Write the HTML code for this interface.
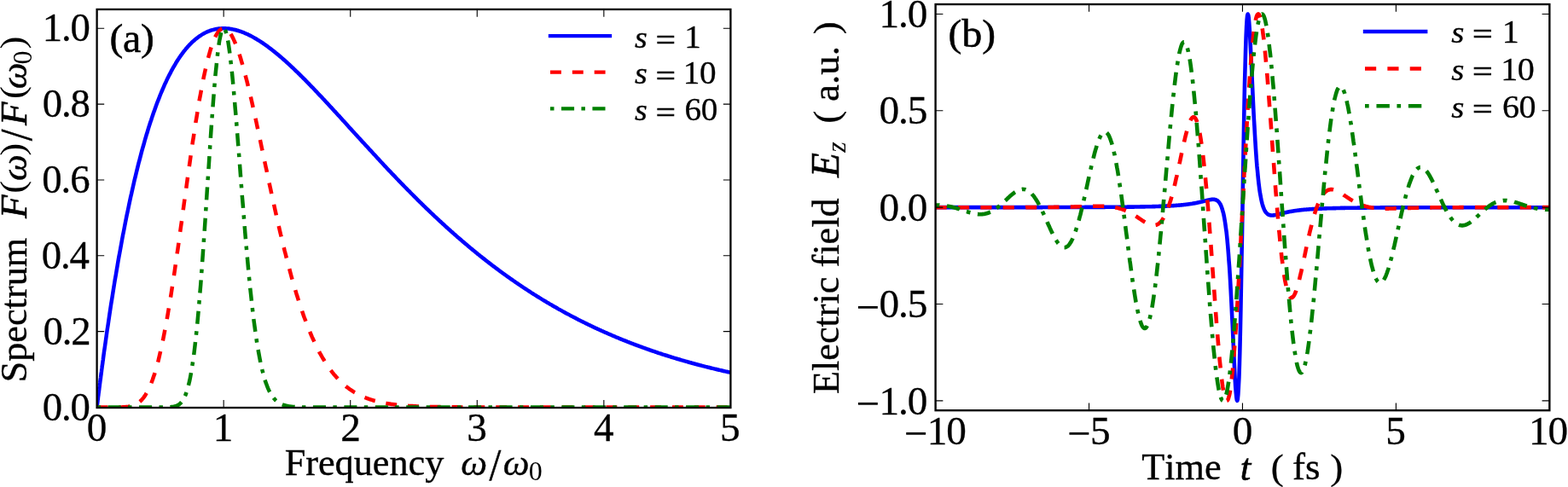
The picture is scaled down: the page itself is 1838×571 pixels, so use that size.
<!DOCTYPE html>
<html lang="en"><head><meta charset="utf-8"><title>Spectrum and electric field</title>
<style>html,body{margin:0;padding:0;background:#fff}body{width:1838px;height:571px;overflow:hidden}svg{display:block}</style>
</head><body>
<svg width="1838" height="571" viewBox="0 0 1838 571" font-family='"Liberation Serif", "DejaVu Serif", serif' fill="#000" style="font-kerning:none">
<rect x="0" y="0" width="1838" height="571" fill="#fff"/>
<defs>
<clipPath id="ca"><rect x="113.6" y="11.05" width="742.80" height="466.45"/></clipPath>
<clipPath id="cb"><rect x="1096.6" y="5.1" width="719.75" height="476.10"/></clipPath>
</defs>
<g clip-path="url(#ca)" fill="none" stroke-width="4.50" stroke-linejoin="round">
<path d="M113.6,477.5L113.9,475.4L114.1,473.4L114.4,471.3L114.6,469.2L114.9,467.2L115.1,465.1L115.4,463.1L115.6,461.1L115.9,459.1L116.2,457.0L116.4,455.0L116.7,453.0L116.9,451.0L117.2,449.0L117.4,447.1L117.7,445.1L118.0,443.1L118.2,441.2L118.5,439.2L118.7,437.3L119.0,435.3L119.2,433.4L119.5,431.5L119.7,429.6L120.0,427.6L120.3,425.7L120.5,423.8L120.8,422.0L121.0,420.1L121.9,413.3L122.9,406.7L123.8,400.2L124.7,393.7L125.6,387.3L126.6,381.0L127.5,374.8L128.4,368.7L129.3,362.6L130.2,356.6L131.2,350.7L132.1,344.9L133.0,339.2L133.9,333.5L134.8,327.9L135.8,322.4L136.7,316.9L137.6,311.6L138.5,306.2L139.4,301.0L140.4,295.9L141.3,290.8L142.2,285.8L143.1,280.8L144.0,275.9L145.0,271.1L145.9,266.4L146.8,261.7L147.7,257.1L148.6,252.5L149.6,248.0L150.5,243.6L151.4,239.3L152.3,235.0L153.2,230.7L154.2,226.6L155.1,222.5L156.0,218.4L156.9,214.4L157.8,210.5L158.8,206.6L159.7,202.8L160.6,199.1L161.5,195.4L162.4,191.7L163.4,188.1L164.3,184.6L165.2,181.1L166.1,177.7L167.0,174.3L168.0,171.0L168.9,167.8L169.8,164.5L170.7,161.4L171.6,158.3L172.6,155.2L173.5,152.2L174.4,149.2L175.3,146.3L176.2,143.5L177.2,140.7L178.1,137.9L179.0,135.2L179.9,132.5L180.9,129.9L181.8,127.3L182.7,124.8L183.6,122.3L184.5,119.8L185.5,117.4L186.4,115.1L187.3,112.7L188.2,110.5L189.1,108.2L190.1,106.0L191.0,103.9L191.9,101.8L192.8,99.7L193.7,97.7L194.7,95.7L195.6,93.7L196.5,91.8L197.4,90.0L198.3,88.1L199.3,86.3L200.2,84.6L201.1,82.8L202.0,81.2L202.9,79.5L203.9,77.9L204.8,76.3L205.7,74.8L206.6,73.2L207.5,71.8L208.5,70.3L209.4,68.9L210.3,67.5L211.2,66.2L212.1,64.9L213.1,63.6L214.0,62.3L214.9,61.1L215.8,59.9L216.7,58.8L217.7,57.6L218.6,56.6L219.5,55.5L220.4,54.4L221.3,53.4L222.3,52.5L223.2,51.5L224.1,50.6L225.0,49.7L225.9,48.8L226.9,48.0L227.8,47.2L228.7,46.4L229.6,45.6L230.6,44.9L231.5,44.2L232.4,43.5L233.3,42.8L234.2,42.2L235.2,41.6L236.1,41.0L237.0,40.4L237.9,39.9L238.8,39.3L239.8,38.9L240.7,38.4L241.6,37.9L242.5,37.5L243.4,37.1L244.4,36.7L245.3,36.4L246.2,36.0L247.1,35.7L248.0,35.4L249.0,35.1L249.9,34.9L250.8,34.6L251.7,34.4L252.6,34.2L253.6,34.0L254.5,33.9L255.4,33.7L256.3,33.6L257.2,33.5L258.2,33.4L259.1,33.4L260.0,33.3L260.9,33.3L261.8,33.3L262.8,33.3L263.7,33.3L264.6,33.3L265.5,33.4L266.4,33.4L267.4,33.5L268.3,33.6L269.2,33.7L270.1,33.9L271.0,34.0L272.0,34.2L272.9,34.4L273.8,34.6L274.7,34.8L275.6,35.0L276.6,35.2L277.5,35.5L278.4,35.7L279.3,36.0L280.3,36.3L281.2,36.6L282.1,36.9L283.0,37.2L283.9,37.6L284.9,37.9L285.8,38.3L286.7,38.7L287.6,39.1L288.5,39.5L289.5,39.9L290.4,40.3L291.3,40.8L292.2,41.2L293.1,41.7L294.1,42.1L295.0,42.6L295.9,43.1L296.8,43.6L297.7,44.1L298.7,44.7L299.6,45.2L300.5,45.7L301.4,46.3L302.3,46.9L303.3,47.4L304.2,48.0L305.1,48.6L306.0,49.2L306.9,49.8L307.9,50.4L308.8,51.1L309.7,51.7L310.6,52.3L311.5,53.0L312.5,53.6L313.4,54.3L314.3,55.0L315.2,55.7L316.1,56.4L317.1,57.1L318.0,57.8L318.9,58.5L319.8,59.2L320.7,59.9L321.7,60.7L322.6,61.4L323.5,62.2L324.4,62.9L325.3,63.7L326.3,64.4L327.2,65.2L328.1,66.0L329.0,66.8L330.0,67.6L330.9,68.4L331.8,69.2L332.7,70.0L333.6,70.8L334.6,71.6L335.5,72.5L336.4,73.3L337.3,74.1L338.2,75.0L339.2,75.8L340.1,76.7L341.0,77.5L341.9,78.4L342.8,79.3L343.8,80.1L344.7,81.0L345.6,81.9L346.5,82.8L347.4,83.7L348.4,84.5L349.3,85.4L350.2,86.3L351.1,87.2L352.0,88.1L353.0,89.1L353.9,90.0L354.8,90.9L355.7,91.8L356.6,92.7L357.6,93.7L358.5,94.6L359.4,95.5L360.3,96.5L361.2,97.4L362.2,98.4L363.1,99.3L364.0,100.3L364.9,101.2L365.8,102.2L366.8,103.1L367.7,104.1L368.6,105.0L369.5,106.0L370.4,107.0L371.4,107.9L372.3,108.9L373.2,109.9L374.1,110.9L375.0,111.8L376.0,112.8L376.9,113.8L377.8,114.8L378.7,115.8L379.7,116.7L380.6,117.7L381.5,118.7L382.4,119.7L383.3,120.7L384.3,121.7L385.2,122.7L386.1,123.7L387.0,124.7L387.9,125.7L388.9,126.7L389.8,127.7L390.7,128.7L391.6,129.7L392.5,130.7L393.5,131.7L394.4,132.7L395.3,133.7L396.2,134.7L397.1,135.7L398.1,136.7L399.0,137.7L399.9,138.8L400.8,139.8L401.7,140.8L402.7,141.8L403.6,142.8L404.5,143.8L405.4,144.8L406.3,145.8L407.3,146.8L408.2,147.9L409.1,148.9L410.0,149.9L410.9,150.9L411.9,151.9L412.8,152.9L413.7,153.9L414.6,154.9L415.5,156.0L416.5,157.0L417.4,158.0L418.3,159.0L419.2,160.0L420.1,161.0L421.1,162.0L422.0,163.0L422.9,164.0L423.8,165.0L424.7,166.1L425.7,167.1L426.6,168.1L427.5,169.1L428.4,170.1L429.4,171.1L430.3,172.1L431.2,173.1L432.1,174.1L433.0,175.1L434.0,176.1L434.9,177.1L435.8,178.1L436.7,179.1L437.6,180.1L438.6,181.1L439.5,182.1L440.4,183.1L441.3,184.1L442.2,185.1L443.2,186.1L444.1,187.1L445.0,188.1L445.9,189.0L446.8,190.0L447.8,191.0L448.7,192.0L449.6,193.0L450.5,194.0L451.4,195.0L452.4,195.9L453.3,196.9L454.2,197.9L455.1,198.9L456.0,199.8L457.0,200.8L457.9,201.8L458.8,202.8L459.7,203.7L460.6,204.7L461.6,205.7L462.5,206.6L463.4,207.6L464.3,208.5L465.2,209.5L466.2,210.5L467.1,211.4L468.0,212.4L468.9,213.3L469.8,214.3L470.8,215.2L471.7,216.2L472.6,217.1L473.5,218.1L474.4,219.0L475.4,220.0L476.3,220.9L477.2,221.8L478.1,222.8L479.1,223.7L480.0,224.6L480.9,225.6L481.8,226.5L482.7,227.4L483.7,228.3L484.6,229.3L485.5,230.2L486.4,231.1L487.3,232.0L488.3,232.9L489.2,233.9L490.1,234.8L491.0,235.7L491.9,236.6L492.9,237.5L493.8,238.4L494.7,239.3L495.6,240.2L496.5,241.1L497.5,242.0L498.4,242.9L499.3,243.8L500.2,244.7L501.1,245.5L502.1,246.4L503.0,247.3L503.9,248.2L504.8,249.1L505.7,249.9L506.7,250.8L507.6,251.7L508.5,252.6L509.4,253.4L510.3,254.3L511.3,255.2L512.2,256.0L513.1,256.9L514.0,257.7L514.9,258.6L515.9,259.5L516.8,260.3L517.7,261.1L518.6,262.0L519.5,262.8L520.5,263.7L521.4,264.5L522.3,265.4L523.2,266.2L524.1,267.0L525.1,267.9L526.0,268.7L526.9,269.5L527.8,270.3L528.7,271.2L529.7,272.0L530.6,272.8L531.5,273.6L532.4,274.4L533.4,275.2L534.3,276.0L535.2,276.9L536.1,277.7L537.0,278.5L538.0,279.3L538.9,280.1L539.8,280.8L540.7,281.6L541.6,282.4L542.6,283.2L543.5,284.0L544.4,284.8L545.3,285.6L546.2,286.3L547.2,287.1L548.1,287.9L549.0,288.7L549.9,289.4L550.8,290.2L551.8,291.0L552.7,291.7L553.6,292.5L554.5,293.3L555.4,294.0L556.4,294.8L557.3,295.5L558.2,296.3L559.1,297.0L560.0,297.8L561.0,298.5L561.9,299.2L562.8,300.0L563.7,300.7L564.6,301.4L565.6,302.2L566.5,302.9L567.4,303.6L568.3,304.3L569.2,305.1L570.2,305.8L571.1,306.5L572.0,307.2L572.9,307.9L573.8,308.6L574.8,309.3L575.7,310.1L576.6,310.8L577.5,311.5L578.4,312.2L579.4,312.8L580.3,313.5L581.2,314.2L582.1,314.9L583.1,315.6L584.0,316.3L584.9,317.0L585.8,317.7L586.7,318.3L587.7,319.0L588.6,319.7L589.5,320.4L590.4,321.0L591.3,321.7L592.3,322.4L593.2,323.0L594.1,323.7L595.0,324.3L595.9,325.0L596.9,325.6L597.8,326.3L598.7,326.9L599.6,327.6L600.5,328.2L601.5,328.9L602.4,329.5L603.3,330.1L604.2,330.8L605.1,331.4L606.1,332.0L607.0,332.7L607.9,333.3L608.8,333.9L609.7,334.5L610.7,335.2L611.6,335.8L612.5,336.4L613.4,337.0L614.3,337.6L615.3,338.2L616.2,338.8L617.1,339.4L618.0,340.0L618.9,340.6L619.9,341.2L620.8,341.8L621.7,342.4L622.6,343.0L623.5,343.6L624.5,344.2L625.4,344.8L626.3,345.4L627.2,345.9L628.1,346.5L629.1,347.1L630.0,347.7L630.9,348.2L631.8,348.8L632.8,349.4L633.7,349.9L634.6,350.5L635.5,351.1L636.4,351.6L637.4,352.2L638.3,352.7L639.2,353.3L640.1,353.8L641.0,354.4L642.0,354.9L642.9,355.5L643.8,356.0L644.7,356.6L645.6,357.1L646.6,357.6L647.5,358.2L648.4,358.7L649.3,359.2L650.2,359.8L651.2,360.3L652.1,360.8L653.0,361.3L653.9,361.9L654.8,362.4L655.8,362.9L656.7,363.4L657.6,363.9L658.5,364.4L659.4,364.9L660.4,365.4L661.3,366.0L662.2,366.5L663.1,367.0L664.0,367.5L665.0,368.0L665.9,368.4L666.8,368.9L667.7,369.4L668.6,369.9L669.6,370.4L670.5,370.9L671.4,371.4L672.3,371.9L673.2,372.3L674.2,372.8L675.1,373.3L676.0,373.8L676.9,374.2L677.8,374.7L678.8,375.2L679.7,375.6L680.6,376.1L681.5,376.6L682.5,377.0L683.4,377.5L684.3,377.9L685.2,378.4L686.1,378.9L687.1,379.3L688.0,379.8L688.9,380.2L689.8,380.6L690.7,381.1L691.7,381.5L692.6,382.0L693.5,382.4L694.4,382.9L695.3,383.3L696.3,383.7L697.2,384.2L698.1,384.6L699.0,385.0L699.9,385.4L700.9,385.9L701.8,386.3L702.7,386.7L703.6,387.1L704.5,387.5L705.5,388.0L706.4,388.4L707.3,388.8L708.2,389.2L709.1,389.6L710.1,390.0L711.0,390.4L711.9,390.8L712.8,391.2L713.7,391.6L714.7,392.0L715.6,392.4L716.5,392.8L717.4,393.2L718.3,393.6L719.3,394.0L720.2,394.4L721.1,394.8L722.0,395.2L722.9,395.6L723.9,395.9L724.8,396.3L725.7,396.7L726.6,397.1L727.5,397.5L728.5,397.8L729.4,398.2L730.3,398.6L731.2,398.9L732.2,399.3L733.1,399.7L734.0,400.0L734.9,400.4L735.8,400.8L736.8,401.1L737.7,401.5L738.6,401.9L739.5,402.2L740.4,402.6L741.4,402.9L742.3,403.3L743.2,403.6L744.1,404.0L745.0,404.3L746.0,404.7L746.9,405.0L747.8,405.3L748.7,405.7L749.6,406.0L750.6,406.4L751.5,406.7L752.4,407.0L753.3,407.4L754.2,407.7L755.2,408.0L756.1,408.4L757.0,408.7L757.9,409.0L758.8,409.4L759.8,409.7L760.7,410.0L761.6,410.3L762.5,410.6L763.4,411.0L764.4,411.3L765.3,411.6L766.2,411.9L767.1,412.2L768.0,412.5L769.0,412.8L769.9,413.2L770.8,413.5L771.7,413.8L772.6,414.1L773.6,414.4L774.5,414.7L775.4,415.0L776.3,415.3L777.2,415.6L778.2,415.9L779.1,416.2L780.0,416.5L780.9,416.8L781.9,417.0L782.8,417.3L783.7,417.6L784.6,417.9L785.5,418.2L786.5,418.5L787.4,418.8L788.3,419.1L789.2,419.3L790.1,419.6L791.1,419.9L792.0,420.2L792.9,420.5L793.8,420.7L794.7,421.0L795.7,421.3L796.6,421.5L797.5,421.8L798.4,422.1L799.3,422.4L800.3,422.6L801.2,422.9L802.1,423.2L803.0,423.4L803.9,423.7L804.9,423.9L805.8,424.2L806.7,424.5L807.6,424.7L808.5,425.0L809.5,425.2L810.4,425.5L811.3,425.7L812.2,426.0L813.1,426.2L814.1,426.5L815.0,426.7L815.9,427.0L816.8,427.2L817.7,427.5L818.7,427.7L819.6,428.0L820.5,428.2L821.4,428.4L822.3,428.7L823.3,428.9L824.2,429.2L825.1,429.4L826.0,429.6L826.9,429.9L827.9,430.1L828.8,430.3L829.7,430.6L830.6,430.8L831.6,431.0L832.5,431.2L833.4,431.5L834.3,431.7L835.2,431.9L836.2,432.1L837.1,432.4L838.0,432.6L838.9,432.8L839.8,433.0L840.8,433.3L841.7,433.5L842.6,433.7L843.5,433.9L844.4,434.1L845.4,434.3L846.3,434.5L847.2,434.8L848.1,435.0L849.0,435.2L850.0,435.4L850.9,435.6L851.8,435.8L852.7,436.0L853.6,436.2L854.6,436.4L855.5,436.6L856.4,436.8" stroke="#0000ff" stroke-linecap="square"/>
<path d="M113.6,477.5L113.9,477.5L114.1,477.5L114.4,477.5L114.6,477.5L114.9,477.5L115.1,477.5L115.4,477.5L115.6,477.5L115.9,477.5L116.2,477.5L116.4,477.5L116.7,477.5L116.9,477.5L117.2,477.5L117.4,477.5L117.7,477.5L118.0,477.5L118.2,477.5L118.5,477.5L118.7,477.5L119.0,477.5L119.2,477.5L119.5,477.5L119.7,477.5L120.0,477.5L120.3,477.5L120.5,477.5L120.8,477.5L121.0,477.5L121.9,477.5L122.9,477.5L123.8,477.5L124.7,477.5L125.6,477.5L126.6,477.5L127.5,477.5L128.4,477.5L129.3,477.5L130.2,477.5L131.2,477.5L132.1,477.5L133.0,477.5L133.9,477.5L134.8,477.5L135.8,477.5L136.7,477.5L137.6,477.5L138.5,477.5L139.4,477.5L140.4,477.4L141.3,477.4L142.2,477.4L143.1,477.4L144.0,477.3L145.0,477.3L145.9,477.2L146.8,477.2L147.7,477.1L148.6,477.0L149.6,476.9L150.5,476.8L151.4,476.6L152.3,476.5L153.2,476.3L154.2,476.0L155.1,475.8L156.0,475.5L156.9,475.1L157.8,474.8L158.8,474.3L159.7,473.9L160.6,473.3L161.5,472.8L162.4,472.1L163.4,471.4L164.3,470.6L165.2,469.7L166.1,468.8L167.0,467.8L168.0,466.6L168.9,465.4L169.8,464.1L170.7,462.7L171.6,461.2L172.6,459.6L173.5,457.8L174.4,455.9L175.3,454.0L176.2,451.8L177.2,449.6L178.1,447.2L179.0,444.7L179.9,442.0L180.9,439.3L181.8,436.3L182.7,433.2L183.6,430.0L184.5,426.6L185.5,423.1L186.4,419.4L187.3,415.6L188.2,411.7L189.1,407.5L190.1,403.3L191.0,398.9L191.9,394.3L192.8,389.6L193.7,384.8L194.7,379.8L195.6,374.7L196.5,369.5L197.4,364.1L198.3,358.6L199.3,353.0L200.2,347.3L201.1,341.5L202.0,335.5L202.9,329.5L203.9,323.4L204.8,317.2L205.7,310.9L206.6,304.5L207.5,298.1L208.5,291.6L209.4,285.0L210.3,278.4L211.2,271.8L212.1,265.2L213.1,258.5L214.0,251.8L214.9,245.0L215.8,238.3L216.7,231.6L217.7,224.9L218.6,218.2L219.5,211.6L220.4,205.0L221.3,198.4L222.3,191.9L223.2,185.4L224.1,179.0L225.0,172.7L225.9,166.4L226.9,160.3L227.8,154.2L228.7,148.2L229.6,142.3L230.6,136.6L231.5,130.9L232.4,125.4L233.3,120.0L234.2,114.7L235.2,109.6L236.1,104.6L237.0,99.7L237.9,95.0L238.8,90.5L239.8,86.1L240.7,81.9L241.6,77.8L242.5,73.9L243.4,70.2L244.4,66.6L245.3,63.3L246.2,60.1L247.1,57.0L248.0,54.2L249.0,51.5L249.9,49.0L250.8,46.7L251.7,44.6L252.6,42.7L253.6,40.9L254.5,39.4L255.4,38.0L256.3,36.8L257.2,35.7L258.2,34.9L259.1,34.2L260.0,33.7L260.9,33.4L261.8,33.3L262.8,33.3L263.7,33.5L264.6,33.9L265.5,34.4L266.4,35.1L267.4,35.9L268.3,36.9L269.2,38.1L270.1,39.4L271.0,40.8L272.0,42.4L272.9,44.2L273.8,46.1L274.7,48.1L275.6,50.2L276.6,52.5L277.5,54.9L278.4,57.4L279.3,60.0L280.3,62.7L281.2,65.6L282.1,68.5L283.0,71.6L283.9,74.7L284.9,77.9L285.8,81.3L286.7,84.7L287.6,88.2L288.5,91.7L289.5,95.4L290.4,99.1L291.3,102.9L292.2,106.7L293.1,110.6L294.1,114.5L295.0,118.5L295.9,122.6L296.8,126.7L297.7,130.8L298.7,135.0L299.6,139.2L300.5,143.4L301.4,147.7L302.3,151.9L303.3,156.2L304.2,160.6L305.1,164.9L306.0,169.2L306.9,173.6L307.9,178.0L308.8,182.3L309.7,186.7L310.6,191.1L311.5,195.4L312.5,199.8L313.4,204.1L314.3,208.5L315.2,212.8L316.1,217.1L317.1,221.4L318.0,225.7L318.9,229.9L319.8,234.1L320.7,238.3L321.7,242.5L322.6,246.7L323.5,250.8L324.4,254.9L325.3,258.9L326.3,263.0L327.2,267.0L328.1,270.9L329.0,274.8L330.0,278.7L330.9,282.5L331.8,286.3L332.7,290.1L333.6,293.8L334.6,297.5L335.5,301.1L336.4,304.7L337.3,308.3L338.2,311.8L339.2,315.2L340.1,318.6L341.0,322.0L341.9,325.3L342.8,328.6L343.8,331.8L344.7,335.0L345.6,338.1L346.5,341.2L347.4,344.2L348.4,347.2L349.3,350.1L350.2,353.0L351.1,355.9L352.0,358.7L353.0,361.4L353.9,364.1L354.8,366.8L355.7,369.4L356.6,372.0L357.6,374.5L358.5,377.0L359.4,379.4L360.3,381.8L361.2,384.1L362.2,386.4L363.1,388.7L364.0,390.9L364.9,393.0L365.8,395.1L366.8,397.2L367.7,399.2L368.6,401.2L369.5,403.2L370.4,405.1L371.4,407.0L372.3,408.8L373.2,410.6L374.1,412.4L375.0,414.1L376.0,415.7L376.9,417.4L377.8,419.0L378.7,420.6L379.7,422.1L380.6,423.6L381.5,425.1L382.4,426.5L383.3,427.9L384.3,429.2L385.2,430.6L386.1,431.9L387.0,433.2L387.9,434.4L388.9,435.6L389.8,436.8L390.7,437.9L391.6,439.1L392.5,440.2L393.5,441.2L394.4,442.3L395.3,443.3L396.2,444.3L397.1,445.2L398.1,446.2L399.0,447.1L399.9,448.0L400.8,448.8L401.7,449.7L402.7,450.5L403.6,451.3L404.5,452.1L405.4,452.9L406.3,453.6L407.3,454.3L408.2,455.0L409.1,455.7L410.0,456.4L410.9,457.0L411.9,457.6L412.8,458.2L413.7,458.8L414.6,459.4L415.5,460.0L416.5,460.5L417.4,461.0L418.3,461.6L419.2,462.1L420.1,462.5L421.1,463.0L422.0,463.5L422.9,463.9L423.8,464.3L424.7,464.8L425.7,465.2L426.6,465.6L427.5,465.9L428.4,466.3L429.4,466.7L430.3,467.0L431.2,467.4L432.1,467.7L433.0,468.0L434.0,468.3L434.9,468.6L435.8,468.9L436.7,469.2L437.6,469.5L438.6,469.7L439.5,470.0L440.4,470.2L441.3,470.5L442.2,470.7L443.2,470.9L444.1,471.2L445.0,471.4L445.9,471.6L446.8,471.8L447.8,472.0L448.7,472.2L449.6,472.3L450.5,472.5L451.4,472.7L452.4,472.9L453.3,473.0L454.2,473.2L455.1,473.3L456.0,473.5L457.0,473.6L457.9,473.7L458.8,473.9L459.7,474.0L460.6,474.1L461.6,474.2L462.5,474.3L463.4,474.5L464.3,474.6L465.2,474.7L466.2,474.8L467.1,474.9L468.0,475.0L468.9,475.0L469.8,475.1L470.8,475.2L471.7,475.3L472.6,475.4L473.5,475.5L474.4,475.5L475.4,475.6L476.3,475.7L477.2,475.7L478.1,475.8L479.1,475.9L480.0,475.9L480.9,476.0L481.8,476.0L482.7,476.1L483.7,476.1L484.6,476.2L485.5,476.2L486.4,476.3L487.3,476.3L488.3,476.4L489.2,476.4L490.1,476.4L491.0,476.5L491.9,476.5L492.9,476.6L493.8,476.6L494.7,476.6L495.6,476.7L496.5,476.7L497.5,476.7L498.4,476.7L499.3,476.8L500.2,476.8L501.1,476.8L502.1,476.9L503.0,476.9L503.9,476.9L504.8,476.9L505.7,476.9L506.7,477.0L507.6,477.0L508.5,477.0L509.4,477.0L510.3,477.0L511.3,477.1L512.2,477.1L513.1,477.1L514.0,477.1L514.9,477.1L515.9,477.1L516.8,477.2L517.7,477.2L518.6,477.2L519.5,477.2L520.5,477.2L521.4,477.2L522.3,477.2L523.2,477.2L524.1,477.2L525.1,477.3L526.0,477.3L526.9,477.3L527.8,477.3L528.7,477.3L529.7,477.3L530.6,477.3L531.5,477.3L532.4,477.3L533.4,477.3L534.3,477.3L535.2,477.3L536.1,477.3L537.0,477.4L538.0,477.4L538.9,477.4L539.8,477.4L540.7,477.4L541.6,477.4L542.6,477.4L543.5,477.4L544.4,477.4L545.3,477.4L546.2,477.4L547.2,477.4L548.1,477.4L549.0,477.4L549.9,477.4L550.8,477.4L551.8,477.4L552.7,477.4L553.6,477.4L554.5,477.4L555.4,477.4L556.4,477.4L557.3,477.4L558.2,477.4L559.1,477.4L560.0,477.4L561.0,477.4L561.9,477.5L562.8,477.5L563.7,477.5L564.6,477.5L565.6,477.5L566.5,477.5L567.4,477.5L568.3,477.5L569.2,477.5L570.2,477.5L571.1,477.5L572.0,477.5L572.9,477.5L573.8,477.5L574.8,477.5L575.7,477.5L576.6,477.5L577.5,477.5L578.4,477.5L579.4,477.5L580.3,477.5L581.2,477.5L582.1,477.5L583.1,477.5L584.0,477.5L584.9,477.5L585.8,477.5L586.7,477.5L587.7,477.5L588.6,477.5L589.5,477.5L590.4,477.5L591.3,477.5L592.3,477.5L593.2,477.5L594.1,477.5L595.0,477.5L595.9,477.5L596.9,477.5L597.8,477.5L598.7,477.5L599.6,477.5L600.5,477.5L601.5,477.5L602.4,477.5L603.3,477.5L604.2,477.5L605.1,477.5L606.1,477.5L607.0,477.5L607.9,477.5L608.8,477.5L609.7,477.5L610.7,477.5L611.6,477.5L612.5,477.5L613.4,477.5L614.3,477.5L615.3,477.5L616.2,477.5L617.1,477.5L618.0,477.5L618.9,477.5L619.9,477.5L620.8,477.5L621.7,477.5L622.6,477.5L623.5,477.5L624.5,477.5L625.4,477.5L626.3,477.5L627.2,477.5L628.1,477.5L629.1,477.5L630.0,477.5L630.9,477.5L631.8,477.5L632.8,477.5L633.7,477.5L634.6,477.5L635.5,477.5L636.4,477.5L637.4,477.5L638.3,477.5L639.2,477.5L640.1,477.5L641.0,477.5L642.0,477.5L642.9,477.5L643.8,477.5L644.7,477.5L645.6,477.5L646.6,477.5L647.5,477.5L648.4,477.5L649.3,477.5L650.2,477.5L651.2,477.5L652.1,477.5L653.0,477.5L653.9,477.5L654.8,477.5L655.8,477.5L656.7,477.5L657.6,477.5L658.5,477.5L659.4,477.5L660.4,477.5L661.3,477.5L662.2,477.5L663.1,477.5L664.0,477.5L665.0,477.5L665.9,477.5L666.8,477.5L667.7,477.5L668.6,477.5L669.6,477.5L670.5,477.5L671.4,477.5L672.3,477.5L673.2,477.5L674.2,477.5L675.1,477.5L676.0,477.5L676.9,477.5L677.8,477.5L678.8,477.5L679.7,477.5L680.6,477.5L681.5,477.5L682.5,477.5L683.4,477.5L684.3,477.5L685.2,477.5L686.1,477.5L687.1,477.5L688.0,477.5L688.9,477.5L689.8,477.5L690.7,477.5L691.7,477.5L692.6,477.5L693.5,477.5L694.4,477.5L695.3,477.5L696.3,477.5L697.2,477.5L698.1,477.5L699.0,477.5L699.9,477.5L700.9,477.5L701.8,477.5L702.7,477.5L703.6,477.5L704.5,477.5L705.5,477.5L706.4,477.5L707.3,477.5L708.2,477.5L709.1,477.5L710.1,477.5L711.0,477.5L711.9,477.5L712.8,477.5L713.7,477.5L714.7,477.5L715.6,477.5L716.5,477.5L717.4,477.5L718.3,477.5L719.3,477.5L720.2,477.5L721.1,477.5L722.0,477.5L722.9,477.5L723.9,477.5L724.8,477.5L725.7,477.5L726.6,477.5L727.5,477.5L728.5,477.5L729.4,477.5L730.3,477.5L731.2,477.5L732.2,477.5L733.1,477.5L734.0,477.5L734.9,477.5L735.8,477.5L736.8,477.5L737.7,477.5L738.6,477.5L739.5,477.5L740.4,477.5L741.4,477.5L742.3,477.5L743.2,477.5L744.1,477.5L745.0,477.5L746.0,477.5L746.9,477.5L747.8,477.5L748.7,477.5L749.6,477.5L750.6,477.5L751.5,477.5L752.4,477.5L753.3,477.5L754.2,477.5L755.2,477.5L756.1,477.5L757.0,477.5L757.9,477.5L758.8,477.5L759.8,477.5L760.7,477.5L761.6,477.5L762.5,477.5L763.4,477.5L764.4,477.5L765.3,477.5L766.2,477.5L767.1,477.5L768.0,477.5L769.0,477.5L769.9,477.5L770.8,477.5L771.7,477.5L772.6,477.5L773.6,477.5L774.5,477.5L775.4,477.5L776.3,477.5L777.2,477.5L778.2,477.5L779.1,477.5L780.0,477.5L780.9,477.5L781.9,477.5L782.8,477.5L783.7,477.5L784.6,477.5L785.5,477.5L786.5,477.5L787.4,477.5L788.3,477.5L789.2,477.5L790.1,477.5L791.1,477.5L792.0,477.5L792.9,477.5L793.8,477.5L794.7,477.5L795.7,477.5L796.6,477.5L797.5,477.5L798.4,477.5L799.3,477.5L800.3,477.5L801.2,477.5L802.1,477.5L803.0,477.5L803.9,477.5L804.9,477.5L805.8,477.5L806.7,477.5L807.6,477.5L808.5,477.5L809.5,477.5L810.4,477.5L811.3,477.5L812.2,477.5L813.1,477.5L814.1,477.5L815.0,477.5L815.9,477.5L816.8,477.5L817.7,477.5L818.7,477.5L819.6,477.5L820.5,477.5L821.4,477.5L822.3,477.5L823.3,477.5L824.2,477.5L825.1,477.5L826.0,477.5L826.9,477.5L827.9,477.5L828.8,477.5L829.7,477.5L830.6,477.5L831.6,477.5L832.5,477.5L833.4,477.5L834.3,477.5L835.2,477.5L836.2,477.5L837.1,477.5L838.0,477.5L838.9,477.5L839.8,477.5L840.8,477.5L841.7,477.5L842.6,477.5L843.5,477.5L844.4,477.5L845.4,477.5L846.3,477.5L847.2,477.5L848.1,477.5L849.0,477.5L850.0,477.5L850.9,477.5L851.8,477.5L852.7,477.5L853.6,477.5L854.6,477.5L855.5,477.5L856.4,477.5" stroke="#ff0000" stroke-dasharray="12.92 12.92" stroke-dashoffset="0"/>
<path d="M113.6,477.5L113.9,477.5L114.1,477.5L114.4,477.5L114.6,477.5L114.9,477.5L115.1,477.5L115.4,477.5L115.6,477.5L115.9,477.5L116.2,477.5L116.4,477.5L116.7,477.5L116.9,477.5L117.2,477.5L117.4,477.5L117.7,477.5L118.0,477.5L118.2,477.5L118.5,477.5L118.7,477.5L119.0,477.5L119.2,477.5L119.5,477.5L119.7,477.5L120.0,477.5L120.3,477.5L120.5,477.5L120.8,477.5L121.0,477.5L121.9,477.5L122.9,477.5L123.8,477.5L124.7,477.5L125.6,477.5L126.6,477.5L127.5,477.5L128.4,477.5L129.3,477.5L130.2,477.5L131.2,477.5L132.1,477.5L133.0,477.5L133.9,477.5L134.8,477.5L135.8,477.5L136.7,477.5L137.6,477.5L138.5,477.5L139.4,477.5L140.4,477.5L141.3,477.5L142.2,477.5L143.1,477.5L144.0,477.5L145.0,477.5L145.9,477.5L146.8,477.5L147.7,477.5L148.6,477.5L149.6,477.5L150.5,477.5L151.4,477.5L152.3,477.5L153.2,477.5L154.2,477.5L155.1,477.5L156.0,477.5L156.9,477.5L157.8,477.5L158.8,477.5L159.7,477.5L160.6,477.5L161.5,477.5L162.4,477.5L163.4,477.5L164.3,477.5L165.2,477.5L166.1,477.5L167.0,477.5L168.0,477.5L168.9,477.5L169.8,477.5L170.7,477.5L171.6,477.5L172.6,477.5L173.5,477.5L174.4,477.5L175.3,477.5L176.2,477.5L177.2,477.5L178.1,477.5L179.0,477.5L179.9,477.5L180.9,477.5L181.8,477.5L182.7,477.5L183.6,477.5L184.5,477.5L185.5,477.5L186.4,477.5L187.3,477.5L188.2,477.5L189.1,477.5L190.1,477.5L191.0,477.5L191.9,477.5L192.8,477.5L193.7,477.5L194.7,477.4L195.6,477.4L196.5,477.4L197.4,477.4L198.3,477.3L199.3,477.3L200.2,477.2L201.1,477.1L202.0,477.0L202.9,476.9L203.9,476.7L204.8,476.5L205.7,476.3L206.6,476.0L207.5,475.6L208.5,475.1L209.4,474.6L210.3,473.9L211.2,473.1L212.1,472.2L213.1,471.1L214.0,469.9L214.9,468.4L215.8,466.7L216.7,464.7L217.7,462.5L218.6,459.9L219.5,457.1L220.4,453.8L221.3,450.2L222.3,446.1L223.2,441.6L224.1,436.6L225.0,431.1L225.9,425.1L226.9,418.6L227.8,411.5L228.7,403.8L229.6,395.5L230.6,386.7L231.5,377.3L232.4,367.3L233.3,356.8L234.2,345.7L235.2,334.1L236.1,322.0L237.0,309.5L237.9,296.6L238.8,283.3L239.8,269.7L240.7,255.9L241.6,241.9L242.5,227.7L243.4,213.6L244.4,199.5L245.3,185.5L246.2,171.7L247.1,158.1L248.0,145.0L249.0,132.2L249.9,119.9L250.8,108.3L251.7,97.2L252.6,86.9L253.6,77.4L254.5,68.7L255.4,60.8L256.3,53.9L257.2,47.9L258.2,43.0L259.1,39.0L260.0,36.1L260.9,34.2L261.8,33.3L262.8,33.5L263.7,34.7L264.6,36.8L265.5,39.9L266.4,44.0L267.4,49.0L268.3,54.8L269.2,61.4L270.1,68.8L271.0,76.8L272.0,85.6L272.9,94.9L273.8,104.7L274.7,115.0L275.6,125.7L276.6,136.8L277.5,148.1L278.4,159.6L279.3,171.4L280.3,183.2L281.2,195.1L282.1,207.0L283.0,218.9L283.9,230.7L284.9,242.3L285.8,253.8L286.7,265.1L287.6,276.2L288.5,287.0L289.5,297.5L290.4,307.8L291.3,317.7L292.2,327.2L293.1,336.5L294.1,345.3L295.0,353.8L295.9,362.0L296.8,369.7L297.7,377.1L298.7,384.1L299.6,390.8L300.5,397.1L301.4,403.1L302.3,408.7L303.3,414.0L304.2,418.9L305.1,423.6L306.0,427.9L306.9,432.0L307.9,435.8L308.8,439.3L309.7,442.6L310.6,445.6L311.5,448.4L312.5,451.0L313.4,453.4L314.3,455.6L315.2,457.6L316.1,459.5L317.1,461.2L318.0,462.8L318.9,464.2L319.8,465.5L320.7,466.7L321.7,467.8L322.6,468.8L323.5,469.7L324.4,470.5L325.3,471.2L326.3,471.9L327.2,472.5L328.1,473.0L329.0,473.5L330.0,473.9L330.9,474.3L331.8,474.7L332.7,475.0L333.6,475.3L334.6,475.5L335.5,475.8L336.4,476.0L337.3,476.1L338.2,476.3L339.2,476.4L340.1,476.6L341.0,476.7L341.9,476.8L342.8,476.9L343.8,476.9L344.7,477.0L345.6,477.1L346.5,477.1L347.4,477.2L348.4,477.2L349.3,477.3L350.2,477.3L351.1,477.3L352.0,477.3L353.0,477.4L353.9,477.4L354.8,477.4L355.7,477.4L356.6,477.4L357.6,477.4L358.5,477.4L359.4,477.4L360.3,477.5L361.2,477.5L362.2,477.5L363.1,477.5L364.0,477.5L364.9,477.5L365.8,477.5L366.8,477.5L367.7,477.5L368.6,477.5L369.5,477.5L370.4,477.5L371.4,477.5L372.3,477.5L373.2,477.5L374.1,477.5L375.0,477.5L376.0,477.5L376.9,477.5L377.8,477.5L378.7,477.5L379.7,477.5L380.6,477.5L381.5,477.5L382.4,477.5L383.3,477.5L384.3,477.5L385.2,477.5L386.1,477.5L387.0,477.5L387.9,477.5L388.9,477.5L389.8,477.5L390.7,477.5L391.6,477.5L392.5,477.5L393.5,477.5L394.4,477.5L395.3,477.5L396.2,477.5L397.1,477.5L398.1,477.5L399.0,477.5L399.9,477.5L400.8,477.5L401.7,477.5L402.7,477.5L403.6,477.5L404.5,477.5L405.4,477.5L406.3,477.5L407.3,477.5L408.2,477.5L409.1,477.5L410.0,477.5L410.9,477.5L411.9,477.5L412.8,477.5L413.7,477.5L414.6,477.5L415.5,477.5L416.5,477.5L417.4,477.5L418.3,477.5L419.2,477.5L420.1,477.5L421.1,477.5L422.0,477.5L422.9,477.5L423.8,477.5L424.7,477.5L425.7,477.5L426.6,477.5L427.5,477.5L428.4,477.5L429.4,477.5L430.3,477.5L431.2,477.5L432.1,477.5L433.0,477.5L434.0,477.5L434.9,477.5L435.8,477.5L436.7,477.5L437.6,477.5L438.6,477.5L439.5,477.5L440.4,477.5L441.3,477.5L442.2,477.5L443.2,477.5L444.1,477.5L445.0,477.5L445.9,477.5L446.8,477.5L447.8,477.5L448.7,477.5L449.6,477.5L450.5,477.5L451.4,477.5L452.4,477.5L453.3,477.5L454.2,477.5L455.1,477.5L456.0,477.5L457.0,477.5L457.9,477.5L458.8,477.5L459.7,477.5L460.6,477.5L461.6,477.5L462.5,477.5L463.4,477.5L464.3,477.5L465.2,477.5L466.2,477.5L467.1,477.5L468.0,477.5L468.9,477.5L469.8,477.5L470.8,477.5L471.7,477.5L472.6,477.5L473.5,477.5L474.4,477.5L475.4,477.5L476.3,477.5L477.2,477.5L478.1,477.5L479.1,477.5L480.0,477.5L480.9,477.5L481.8,477.5L482.7,477.5L483.7,477.5L484.6,477.5L485.5,477.5L486.4,477.5L487.3,477.5L488.3,477.5L489.2,477.5L490.1,477.5L491.0,477.5L491.9,477.5L492.9,477.5L493.8,477.5L494.7,477.5L495.6,477.5L496.5,477.5L497.5,477.5L498.4,477.5L499.3,477.5L500.2,477.5L501.1,477.5L502.1,477.5L503.0,477.5L503.9,477.5L504.8,477.5L505.7,477.5L506.7,477.5L507.6,477.5L508.5,477.5L509.4,477.5L510.3,477.5L511.3,477.5L512.2,477.5L513.1,477.5L514.0,477.5L514.9,477.5L515.9,477.5L516.8,477.5L517.7,477.5L518.6,477.5L519.5,477.5L520.5,477.5L521.4,477.5L522.3,477.5L523.2,477.5L524.1,477.5L525.1,477.5L526.0,477.5L526.9,477.5L527.8,477.5L528.7,477.5L529.7,477.5L530.6,477.5L531.5,477.5L532.4,477.5L533.4,477.5L534.3,477.5L535.2,477.5L536.1,477.5L537.0,477.5L538.0,477.5L538.9,477.5L539.8,477.5L540.7,477.5L541.6,477.5L542.6,477.5L543.5,477.5L544.4,477.5L545.3,477.5L546.2,477.5L547.2,477.5L548.1,477.5L549.0,477.5L549.9,477.5L550.8,477.5L551.8,477.5L552.7,477.5L553.6,477.5L554.5,477.5L555.4,477.5L556.4,477.5L557.3,477.5L558.2,477.5L559.1,477.5L560.0,477.5L561.0,477.5L561.9,477.5L562.8,477.5L563.7,477.5L564.6,477.5L565.6,477.5L566.5,477.5L567.4,477.5L568.3,477.5L569.2,477.5L570.2,477.5L571.1,477.5L572.0,477.5L572.9,477.5L573.8,477.5L574.8,477.5L575.7,477.5L576.6,477.5L577.5,477.5L578.4,477.5L579.4,477.5L580.3,477.5L581.2,477.5L582.1,477.5L583.1,477.5L584.0,477.5L584.9,477.5L585.8,477.5L586.7,477.5L587.7,477.5L588.6,477.5L589.5,477.5L590.4,477.5L591.3,477.5L592.3,477.5L593.2,477.5L594.1,477.5L595.0,477.5L595.9,477.5L596.9,477.5L597.8,477.5L598.7,477.5L599.6,477.5L600.5,477.5L601.5,477.5L602.4,477.5L603.3,477.5L604.2,477.5L605.1,477.5L606.1,477.5L607.0,477.5L607.9,477.5L608.8,477.5L609.7,477.5L610.7,477.5L611.6,477.5L612.5,477.5L613.4,477.5L614.3,477.5L615.3,477.5L616.2,477.5L617.1,477.5L618.0,477.5L618.9,477.5L619.9,477.5L620.8,477.5L621.7,477.5L622.6,477.5L623.5,477.5L624.5,477.5L625.4,477.5L626.3,477.5L627.2,477.5L628.1,477.5L629.1,477.5L630.0,477.5L630.9,477.5L631.8,477.5L632.8,477.5L633.7,477.5L634.6,477.5L635.5,477.5L636.4,477.5L637.4,477.5L638.3,477.5L639.2,477.5L640.1,477.5L641.0,477.5L642.0,477.5L642.9,477.5L643.8,477.5L644.7,477.5L645.6,477.5L646.6,477.5L647.5,477.5L648.4,477.5L649.3,477.5L650.2,477.5L651.2,477.5L652.1,477.5L653.0,477.5L653.9,477.5L654.8,477.5L655.8,477.5L656.7,477.5L657.6,477.5L658.5,477.5L659.4,477.5L660.4,477.5L661.3,477.5L662.2,477.5L663.1,477.5L664.0,477.5L665.0,477.5L665.9,477.5L666.8,477.5L667.7,477.5L668.6,477.5L669.6,477.5L670.5,477.5L671.4,477.5L672.3,477.5L673.2,477.5L674.2,477.5L675.1,477.5L676.0,477.5L676.9,477.5L677.8,477.5L678.8,477.5L679.7,477.5L680.6,477.5L681.5,477.5L682.5,477.5L683.4,477.5L684.3,477.5L685.2,477.5L686.1,477.5L687.1,477.5L688.0,477.5L688.9,477.5L689.8,477.5L690.7,477.5L691.7,477.5L692.6,477.5L693.5,477.5L694.4,477.5L695.3,477.5L696.3,477.5L697.2,477.5L698.1,477.5L699.0,477.5L699.9,477.5L700.9,477.5L701.8,477.5L702.7,477.5L703.6,477.5L704.5,477.5L705.5,477.5L706.4,477.5L707.3,477.5L708.2,477.5L709.1,477.5L710.1,477.5L711.0,477.5L711.9,477.5L712.8,477.5L713.7,477.5L714.7,477.5L715.6,477.5L716.5,477.5L717.4,477.5L718.3,477.5L719.3,477.5L720.2,477.5L721.1,477.5L722.0,477.5L722.9,477.5L723.9,477.5L724.8,477.5L725.7,477.5L726.6,477.5L727.5,477.5L728.5,477.5L729.4,477.5L730.3,477.5L731.2,477.5L732.2,477.5L733.1,477.5L734.0,477.5L734.9,477.5L735.8,477.5L736.8,477.5L737.7,477.5L738.6,477.5L739.5,477.5L740.4,477.5L741.4,477.5L742.3,477.5L743.2,477.5L744.1,477.5L745.0,477.5L746.0,477.5L746.9,477.5L747.8,477.5L748.7,477.5L749.6,477.5L750.6,477.5L751.5,477.5L752.4,477.5L753.3,477.5L754.2,477.5L755.2,477.5L756.1,477.5L757.0,477.5L757.9,477.5L758.8,477.5L759.8,477.5L760.7,477.5L761.6,477.5L762.5,477.5L763.4,477.5L764.4,477.5L765.3,477.5L766.2,477.5L767.1,477.5L768.0,477.5L769.0,477.5L769.9,477.5L770.8,477.5L771.7,477.5L772.6,477.5L773.6,477.5L774.5,477.5L775.4,477.5L776.3,477.5L777.2,477.5L778.2,477.5L779.1,477.5L780.0,477.5L780.9,477.5L781.9,477.5L782.8,477.5L783.7,477.5L784.6,477.5L785.5,477.5L786.5,477.5L787.4,477.5L788.3,477.5L789.2,477.5L790.1,477.5L791.1,477.5L792.0,477.5L792.9,477.5L793.8,477.5L794.7,477.5L795.7,477.5L796.6,477.5L797.5,477.5L798.4,477.5L799.3,477.5L800.3,477.5L801.2,477.5L802.1,477.5L803.0,477.5L803.9,477.5L804.9,477.5L805.8,477.5L806.7,477.5L807.6,477.5L808.5,477.5L809.5,477.5L810.4,477.5L811.3,477.5L812.2,477.5L813.1,477.5L814.1,477.5L815.0,477.5L815.9,477.5L816.8,477.5L817.7,477.5L818.7,477.5L819.6,477.5L820.5,477.5L821.4,477.5L822.3,477.5L823.3,477.5L824.2,477.5L825.1,477.5L826.0,477.5L826.9,477.5L827.9,477.5L828.8,477.5L829.7,477.5L830.6,477.5L831.6,477.5L832.5,477.5L833.4,477.5L834.3,477.5L835.2,477.5L836.2,477.5L837.1,477.5L838.0,477.5L838.9,477.5L839.8,477.5L840.8,477.5L841.7,477.5L842.6,477.5L843.5,477.5L844.4,477.5L845.4,477.5L846.3,477.5L847.2,477.5L848.1,477.5L849.0,477.5L850.0,477.5L850.9,477.5L851.8,477.5L852.7,477.5L853.6,477.5L854.6,477.5L855.5,477.5L856.4,477.5" stroke="#008000" stroke-dasharray="4.50 8.50 15.10 8.33" stroke-dashoffset="0"/>
</g>
<path d="M113.60,477.5v-8.6M113.60,11.05v8.6M262.16,477.5v-8.6M262.16,11.05v8.6M410.72,477.5v-8.6M410.72,11.05v8.6M559.28,477.5v-8.6M559.28,11.05v8.6M707.84,477.5v-8.6M707.84,11.05v8.6M856.40,477.5v-8.6M856.40,11.05v8.6M113.6,477.50h8.6M856.4,477.50h-8.6M113.6,388.65h8.6M856.4,388.65h-8.6M113.6,299.80h8.6M856.4,299.80h-8.6M113.6,210.96h8.6M856.4,210.96h-8.6M113.6,122.11h8.6M856.4,122.11h-8.6M113.6,33.26h8.6M856.4,33.26h-8.6" stroke="#000" stroke-width="1.10" fill="none"/>
<rect x="113.6" y="11.0" width="742.80" height="467.00" fill="none" stroke="#000" stroke-width="2.30"/>
<text xml:space="preserve"><tspan x="49.71" y="492.70" font-size="45.36" letter-spacing="-1.079" stroke="#000" stroke-width="0.3" textLength="55.16" lengthAdjust="spacingAndGlyphs">0.0</tspan></text>
<text xml:space="preserve"><tspan x="50.51" y="403.85" font-size="45.36" letter-spacing="-1.079" stroke="#000" stroke-width="0.3" textLength="55.16" lengthAdjust="spacingAndGlyphs">0.2</tspan></text>
<text xml:space="preserve"><tspan x="48.66" y="315.00" font-size="45.36" letter-spacing="-1.079" stroke="#000" stroke-width="0.3" textLength="55.16" lengthAdjust="spacingAndGlyphs">0.4</tspan></text>
<text xml:space="preserve"><tspan x="49.32" y="226.16" font-size="45.36" letter-spacing="-1.079" stroke="#000" stroke-width="0.3" textLength="55.16" lengthAdjust="spacingAndGlyphs">0.6</tspan></text>
<text xml:space="preserve"><tspan x="49.71" y="137.31" font-size="45.36" letter-spacing="-1.079" stroke="#000" stroke-width="0.3" textLength="55.16" lengthAdjust="spacingAndGlyphs">0.8</tspan></text>
<text xml:space="preserve"><tspan x="49.71" y="48.46" font-size="45.36" letter-spacing="-1.079" stroke="#000" stroke-width="0.3" textLength="55.16" lengthAdjust="spacingAndGlyphs">1.0</tspan></text>
<text xml:space="preserve"><tspan x="101.79" y="516.50" font-size="45.72" letter-spacing="-1.087" stroke="#000" stroke-width="0.3" textLength="22.50" lengthAdjust="spacingAndGlyphs">0</tspan></text>
<text xml:space="preserve"><tspan x="249.69" y="516.50" font-size="45.72" letter-spacing="-1.087" stroke="#000" stroke-width="0.3" textLength="22.50" lengthAdjust="spacingAndGlyphs">1</tspan></text>
<text xml:space="preserve"><tspan x="399.17" y="516.50" font-size="45.72" letter-spacing="-1.087" stroke="#000" stroke-width="0.3" textLength="22.50" lengthAdjust="spacingAndGlyphs">2</tspan></text>
<text xml:space="preserve"><tspan x="547.26" y="516.50" font-size="45.72" letter-spacing="-1.087" stroke="#000" stroke-width="0.3" textLength="22.50" lengthAdjust="spacingAndGlyphs">3</tspan></text>
<text xml:space="preserve"><tspan x="695.94" y="516.50" font-size="45.72" letter-spacing="-1.087" stroke="#000" stroke-width="0.3" textLength="22.50" lengthAdjust="spacingAndGlyphs">4</tspan></text>
<text xml:space="preserve"><tspan x="844.14" y="516.50" font-size="45.72" letter-spacing="-1.087" stroke="#000" stroke-width="0.3" textLength="22.50" lengthAdjust="spacingAndGlyphs">5</tspan></text>
<text xml:space="preserve"><tspan x="128.41" y="58.80" font-size="44.10" stroke="#000" stroke-width="0.5" textLength="15.83" lengthAdjust="spacingAndGlyphs">(</tspan><tspan x="144.11" y="60.60" font-size="49.00" stroke="#000" stroke-width="0.5" textLength="21.31" lengthAdjust="spacingAndGlyphs">a</tspan><tspan x="165.06" y="58.80" font-size="44.10" stroke="#000" stroke-width="0.5" textLength="15.83" lengthAdjust="spacingAndGlyphs">)</tspan></text>
<text xml:space="preserve"><tspan x="333.63" y="556.80" font-size="44.77" stroke="#000" stroke-width="0.35" textLength="186.70" lengthAdjust="spacingAndGlyphs">Frequency</tspan>  <tspan x="540.15" y="556.80" font-size="41.40" font-style="italic" stroke="#000" stroke-width="0.35" textLength="30.85" lengthAdjust="spacingAndGlyphs">ω</tspan><tspan x="573.40" y="563.10" font-size="53.10" stroke="#000" stroke-width="0.5" textLength="13.75" lengthAdjust="spacingAndGlyphs">/</tspan><tspan x="589.85" y="556.80" font-size="41.40" font-style="italic" stroke="#000" stroke-width="0.35" textLength="30.85" lengthAdjust="spacingAndGlyphs">ω</tspan><tspan x="619.68" y="563.10" font-size="32.00">0</tspan></text>
<text xml:space="preserve" transform="rotate(-90)"><tspan x="-448.36" y="31.00" font-size="44.77" stroke="#000" stroke-width="0.35" textLength="169.53" lengthAdjust="spacingAndGlyphs">Spectrum</tspan>  <tspan x="-255.96" y="31.00" font-size="45.00" font-style="italic" stroke="#000" stroke-width="0.6">F</tspan><tspan x="-226.68" y="27.80" font-size="40.50" textLength="14.99" lengthAdjust="spacingAndGlyphs">(</tspan><tspan x="-212.05" y="31.00" font-size="41.40" font-style="italic" stroke="#000" stroke-width="0.35" textLength="30.85" lengthAdjust="spacingAndGlyphs">ω</tspan><tspan x="-182.75" y="27.80" font-size="40.50" textLength="14.99" lengthAdjust="spacingAndGlyphs">)</tspan><tspan x="-165.30" y="37.30" font-size="53.10" stroke="#000" stroke-width="0.5" textLength="13.75" lengthAdjust="spacingAndGlyphs">/</tspan><tspan x="-146.96" y="31.00" font-size="45.00" font-style="italic" stroke="#000" stroke-width="0.6">F</tspan><tspan x="-115.98" y="27.80" font-size="40.50" textLength="14.99" lengthAdjust="spacingAndGlyphs">(</tspan><tspan x="-104.25" y="31.00" font-size="41.40" font-style="italic" stroke="#000" stroke-width="0.35" textLength="30.85" lengthAdjust="spacingAndGlyphs">ω</tspan><tspan x="-75.62" y="37.30" font-size="32.00">0</tspan><tspan x="-57.45" y="27.80" font-size="40.50" textLength="14.99" lengthAdjust="spacingAndGlyphs">)</tspan></text>
<g fill="none" stroke-width="4.30">
<path d="M645.0,42.2H715.0" stroke="#0000ff" stroke-linecap="square"/>
<path d="M645.0,84.7H715.0" stroke="#ff0000" stroke-dasharray="12.92 12.92"/>
<path d="M645.0,127.4H715.0" stroke="#008000" stroke-dasharray="4.50 8.50 15.10 8.33"/>
</g>
<text xml:space="preserve"><tspan x="744.04" y="55.55" font-size="35.34" font-style="italic" stroke="#000" stroke-width="0.35" textLength="14.79" lengthAdjust="spacingAndGlyphs">s</tspan> <tspan x="768.66" y="58.55" font-size="35.72" stroke="#000" stroke-width="0.7" textLength="23.15" lengthAdjust="spacingAndGlyphs">=</tspan> <tspan x="802.36" y="55.55" font-size="38.00" letter-spacing="-0.500" stroke="#000" stroke-width="0.3" textLength="19.05" lengthAdjust="spacingAndGlyphs">1</tspan></text>
<text xml:space="preserve"><tspan x="744.04" y="98.05" font-size="35.34" font-style="italic" stroke="#000" stroke-width="0.35" textLength="14.79" lengthAdjust="spacingAndGlyphs">s</tspan> <tspan x="768.66" y="101.05" font-size="35.72" stroke="#000" stroke-width="0.7" textLength="23.15" lengthAdjust="spacingAndGlyphs">=</tspan> <tspan x="800.86" y="98.05" font-size="38.00" letter-spacing="-0.500" stroke="#000" stroke-width="0.3" textLength="38.11" lengthAdjust="spacingAndGlyphs">10</tspan></text>
<text xml:space="preserve"><tspan x="744.04" y="140.75" font-size="35.34" font-style="italic" stroke="#000" stroke-width="0.35" textLength="14.79" lengthAdjust="spacingAndGlyphs">s</tspan> <tspan x="768.66" y="143.75" font-size="35.72" stroke="#000" stroke-width="0.7" textLength="23.15" lengthAdjust="spacingAndGlyphs">=</tspan> <tspan x="802.62" y="140.75" font-size="38.00" letter-spacing="-0.500" stroke="#000" stroke-width="0.3" textLength="38.11" lengthAdjust="spacingAndGlyphs">60</tspan></text>
<g clip-path="url(#cb)" fill="none" stroke-width="4.59" stroke-linejoin="round">
<path d="M1096.6,243.1L1097.1,243.1L1097.6,243.1L1098.1,243.1L1098.7,243.1L1099.2,243.1L1099.7,243.1L1100.2,243.1L1100.7,243.1L1101.2,243.1L1101.7,243.1L1102.3,243.1L1102.8,243.1L1103.3,243.1L1103.8,243.1L1104.3,243.1L1104.8,243.1L1105.3,243.1L1105.9,243.1L1106.4,243.1L1106.9,243.1L1107.4,243.1L1107.9,243.1L1108.4,243.1L1108.9,243.1L1109.5,243.1L1110.0,243.1L1110.5,243.1L1111.0,243.1L1111.5,243.1L1112.0,243.1L1112.5,243.1L1113.1,243.1L1113.6,243.1L1114.1,243.1L1114.6,243.1L1115.1,243.1L1115.6,243.1L1116.1,243.1L1116.7,243.1L1117.2,243.1L1117.7,243.1L1118.2,243.1L1118.7,243.1L1119.2,243.1L1119.7,243.1L1120.2,243.1L1120.8,243.1L1121.3,243.1L1121.8,243.1L1122.3,243.1L1122.8,243.1L1123.3,243.1L1123.8,243.1L1124.4,243.1L1124.9,243.1L1125.4,243.1L1125.9,243.1L1126.4,243.1L1126.9,243.1L1127.4,243.1L1128.0,243.1L1128.5,243.1L1129.0,243.1L1129.5,243.1L1130.0,243.1L1130.5,243.1L1131.0,243.1L1131.6,243.1L1132.1,243.1L1132.6,243.1L1133.1,243.1L1133.6,243.1L1134.1,243.1L1134.6,243.1L1135.2,243.1L1135.7,243.1L1136.2,243.1L1136.7,243.1L1137.2,243.1L1137.7,243.1L1138.2,243.1L1138.8,243.1L1139.3,243.1L1139.8,243.1L1140.3,243.1L1140.8,243.1L1141.3,243.1L1141.8,243.1L1142.4,243.1L1142.9,243.1L1143.4,243.1L1143.9,243.1L1144.4,243.1L1144.9,243.1L1145.4,243.1L1146.0,243.1L1146.5,243.1L1147.0,243.1L1147.5,243.1L1148.0,243.1L1148.5,243.1L1149.0,243.1L1149.6,243.1L1150.1,243.1L1150.6,243.1L1151.1,243.1L1151.6,243.1L1152.1,243.1L1152.6,243.1L1153.2,243.1L1153.7,243.1L1154.2,243.1L1154.7,243.1L1155.2,243.1L1155.7,243.1L1156.2,243.1L1156.8,243.1L1157.3,243.1L1157.8,243.1L1158.3,243.1L1158.8,243.1L1159.3,243.1L1159.8,243.1L1160.3,243.1L1160.9,243.1L1161.4,243.1L1161.9,243.1L1162.4,243.1L1162.9,243.1L1163.4,243.1L1163.9,243.1L1164.5,243.1L1165.0,243.1L1165.5,243.1L1166.0,243.1L1166.5,243.1L1167.0,243.1L1167.5,243.1L1168.1,243.1L1168.6,243.1L1169.1,243.1L1169.6,243.1L1170.1,243.1L1170.6,243.1L1171.1,243.1L1171.7,243.1L1172.2,243.1L1172.7,243.1L1173.2,243.1L1173.7,243.1L1174.2,243.1L1174.7,243.1L1175.3,243.1L1175.8,243.1L1176.3,243.1L1176.8,243.1L1177.3,243.1L1177.8,243.1L1178.3,243.1L1178.9,243.1L1179.4,243.1L1179.9,243.1L1180.4,243.1L1180.9,243.1L1181.4,243.1L1181.9,243.1L1182.5,243.1L1183.0,243.1L1183.5,243.1L1184.0,243.1L1184.5,243.1L1185.0,243.1L1185.5,243.1L1186.1,243.1L1186.6,243.1L1187.1,243.1L1187.6,243.1L1188.1,243.1L1188.6,243.1L1189.1,243.1L1189.7,243.1L1190.2,243.1L1190.7,243.1L1191.2,243.1L1191.7,243.1L1192.2,243.1L1192.7,243.1L1193.3,243.1L1193.8,243.1L1194.3,243.1L1194.8,243.1L1195.3,243.1L1195.8,243.1L1196.3,243.1L1196.9,243.1L1197.4,243.1L1197.9,243.1L1198.4,243.1L1198.9,243.1L1199.4,243.1L1199.9,243.1L1200.4,243.1L1201.0,243.1L1201.5,243.1L1202.0,243.1L1202.5,243.1L1203.0,243.1L1203.5,243.1L1204.0,243.1L1204.6,243.1L1205.1,243.1L1205.6,243.1L1206.1,243.1L1206.6,243.1L1207.1,243.1L1207.6,243.1L1208.2,243.1L1208.7,243.1L1209.2,243.1L1209.7,243.1L1210.2,243.1L1210.7,243.1L1211.2,243.1L1211.8,243.1L1212.3,243.1L1212.8,243.1L1213.3,243.1L1213.8,243.1L1214.3,243.1L1214.8,243.1L1215.4,243.1L1215.9,243.1L1216.4,243.1L1216.9,243.1L1217.4,243.1L1217.9,243.1L1218.4,243.1L1219.0,243.1L1219.5,243.1L1220.0,243.1L1220.5,243.1L1221.0,243.1L1221.5,243.1L1222.0,243.1L1222.6,243.0L1223.1,243.0L1223.6,243.0L1224.1,243.0L1224.6,243.0L1225.1,243.0L1225.6,243.0L1226.2,243.0L1226.7,243.0L1227.2,243.0L1227.7,243.0L1228.2,243.0L1228.7,243.0L1229.2,243.0L1229.8,243.0L1230.3,243.0L1230.8,243.0L1231.3,243.0L1231.8,243.0L1232.3,243.0L1232.8,243.0L1233.4,243.0L1233.9,243.0L1234.4,243.0L1234.9,243.0L1235.4,243.0L1235.9,243.0L1236.4,243.0L1237.0,243.0L1237.5,243.0L1238.0,243.0L1238.5,243.0L1239.0,243.0L1239.5,243.0L1240.0,243.0L1240.5,243.0L1241.1,243.0L1241.6,243.0L1242.1,243.0L1242.6,243.0L1243.1,243.0L1243.6,243.0L1244.1,243.0L1244.7,243.0L1245.2,243.0L1245.7,243.0L1246.2,243.0L1246.7,243.0L1247.2,243.0L1247.7,243.0L1248.3,243.0L1248.8,243.0L1249.3,243.0L1249.8,243.0L1250.3,243.0L1250.8,243.0L1251.3,243.0L1251.9,243.0L1252.4,243.0L1252.9,243.0L1253.4,243.0L1253.9,243.0L1254.4,243.0L1254.9,243.0L1255.5,243.0L1256.0,243.0L1256.5,243.0L1257.0,243.0L1257.5,243.0L1258.0,243.0L1258.5,243.0L1259.1,243.0L1259.6,243.0L1260.1,243.0L1260.6,243.0L1261.1,243.0L1261.6,243.0L1262.1,243.0L1262.7,243.0L1263.2,243.0L1263.7,243.0L1264.2,243.0L1264.7,243.0L1265.2,243.0L1265.7,243.0L1266.3,243.0L1266.8,243.0L1267.3,243.0L1267.8,243.0L1268.3,243.0L1268.8,243.0L1269.3,243.0L1269.9,243.0L1270.4,243.0L1270.9,243.0L1271.4,242.9L1271.9,242.9L1272.4,242.9L1272.9,242.9L1273.5,242.9L1274.0,242.9L1274.5,242.9L1275.0,242.9L1275.5,242.9L1276.0,242.9L1276.5,242.9L1277.1,242.9L1277.6,242.9L1278.1,242.9L1278.6,242.9L1279.1,242.9L1279.6,242.9L1280.1,242.9L1280.7,242.9L1281.2,242.9L1281.7,242.9L1282.2,242.9L1282.7,242.9L1283.2,242.9L1283.7,242.9L1284.2,242.9L1284.8,242.9L1285.3,242.9L1285.8,242.9L1286.3,242.9L1286.8,242.9L1287.3,242.9L1287.8,242.9L1288.4,242.9L1288.9,242.9L1289.4,242.9L1289.9,242.9L1290.4,242.9L1290.9,242.9L1291.4,242.9L1292.0,242.9L1292.5,242.9L1293.0,242.9L1293.5,242.9L1294.0,242.9L1294.5,242.9L1295.0,242.9L1295.6,242.8L1296.1,242.8L1296.6,242.8L1297.1,242.8L1297.6,242.8L1298.1,242.8L1298.6,242.8L1299.2,242.8L1299.7,242.8L1300.2,242.8L1300.7,242.8L1301.2,242.8L1301.7,242.8L1302.2,242.8L1302.8,242.8L1303.3,242.8L1303.8,242.8L1304.3,242.8L1304.8,242.8L1305.3,242.8L1305.8,242.8L1306.4,242.8L1306.9,242.8L1307.4,242.8L1307.9,242.8L1308.4,242.8L1308.9,242.8L1309.4,242.8L1310.0,242.8L1310.5,242.8L1311.0,242.7L1311.5,242.7L1312.0,242.7L1312.5,242.7L1313.0,242.7L1313.6,242.7L1314.1,242.7L1314.6,242.7L1315.1,242.7L1315.6,242.7L1316.1,242.7L1316.6,242.7L1317.2,242.7L1317.7,242.7L1318.2,242.7L1318.7,242.7L1319.2,242.7L1319.7,242.7L1320.2,242.7L1320.8,242.7L1321.3,242.7L1321.8,242.6L1322.3,242.6L1322.8,242.6L1323.3,242.6L1323.8,242.6L1324.3,242.6L1324.9,242.6L1325.4,242.6L1325.9,242.6L1326.4,242.6L1326.9,242.6L1327.4,242.6L1327.9,242.6L1328.5,242.6L1329.0,242.6L1329.5,242.6L1330.0,242.5L1330.5,242.5L1331.0,242.5L1331.5,242.5L1332.1,242.5L1332.6,242.5L1333.1,242.5L1333.6,242.5L1334.1,242.5L1334.6,242.5L1335.1,242.5L1335.7,242.5L1336.2,242.5L1336.7,242.4L1337.2,242.4L1337.7,242.4L1338.2,242.4L1338.7,242.4L1339.3,242.4L1339.8,242.4L1340.3,242.4L1340.8,242.4L1341.3,242.4L1341.8,242.4L1342.3,242.3L1342.9,242.3L1343.4,242.3L1343.9,242.3L1344.4,242.3L1344.9,242.3L1345.4,242.3L1345.9,242.3L1346.5,242.3L1347.0,242.2L1347.5,242.2L1348.0,242.2L1348.5,242.2L1349.0,242.2L1349.5,242.2L1350.1,242.2L1350.6,242.2L1351.1,242.1L1351.6,242.1L1352.1,242.1L1352.6,242.1L1353.1,242.1L1353.7,242.1L1354.2,242.1L1354.7,242.0L1355.2,242.0L1355.7,242.0L1356.2,242.0L1356.7,242.0L1357.3,242.0L1357.8,242.0L1358.3,241.9L1358.8,241.9L1359.3,241.9L1359.8,241.9L1360.3,241.9L1360.9,241.8L1361.4,241.8L1361.9,241.8L1362.4,241.8L1362.9,241.8L1363.4,241.7L1363.9,241.7L1364.4,241.7L1365.0,241.7L1365.5,241.7L1366.0,241.6L1366.5,241.6L1367.0,241.6L1367.5,241.6L1368.0,241.5L1368.6,241.5L1369.1,241.5L1369.6,241.5L1370.1,241.4L1370.6,241.4L1371.1,241.4L1371.6,241.4L1372.2,241.3L1372.7,241.3L1373.2,241.3L1373.7,241.2L1374.2,241.2L1374.7,241.2L1375.2,241.1L1375.8,241.1L1376.3,241.1L1376.8,241.0L1377.3,241.0L1377.8,241.0L1378.3,240.9L1378.8,240.9L1379.4,240.8L1379.9,240.8L1380.4,240.8L1380.9,240.7L1381.4,240.7L1381.9,240.6L1382.4,240.6L1383.0,240.6L1383.5,240.5L1384.0,240.5L1384.5,240.4L1385.0,240.4L1385.5,240.3L1386.0,240.3L1386.6,240.2L1387.1,240.2L1387.6,240.1L1388.1,240.0L1388.6,240.0L1389.1,239.9L1389.6,239.9L1390.2,239.8L1390.7,239.7L1391.2,239.7L1391.7,239.6L1392.2,239.5L1392.7,239.5L1393.2,239.4L1393.8,239.3L1394.3,239.3L1394.8,239.2L1395.3,239.1L1395.8,239.0L1396.3,239.0L1396.8,238.9L1397.4,238.8L1397.9,238.7L1398.4,238.6L1398.9,238.5L1399.4,238.4L1399.9,238.4L1400.4,238.3L1401.0,238.2L1401.5,238.1L1402.0,238.0L1402.5,237.9L1403.0,237.8L1403.5,237.7L1404.0,237.5L1404.6,237.4L1405.1,237.3L1405.6,237.2L1406.1,237.1L1406.6,237.0L1407.1,236.9L1407.6,236.7L1408.1,236.6L1408.7,236.5L1409.2,236.4L1409.7,236.2L1410.2,236.1L1410.7,236.0L1411.2,235.9L1411.7,235.7L1412.3,235.6L1412.8,235.5L1413.3,235.3L1413.8,235.2L1414.3,235.1L1414.8,235.0L1415.3,234.8L1415.9,234.7L1416.4,234.6L1416.9,234.5L1417.4,234.4L1417.9,234.3L1418.4,234.2L1418.9,234.1L1419.5,234.0L1420.0,233.9L1420.5,233.9L1421.0,233.8L1421.5,233.8L1422.0,233.8L1422.5,233.8L1423.1,233.9L1423.6,233.9L1424.1,234.0L1424.6,234.1L1425.1,234.3L1425.6,234.5L1426.1,234.7L1426.7,235.0L1427.2,235.4L1427.7,235.8L1428.2,236.3L1428.7,236.9L1429.2,237.5L1429.7,238.3L1430.3,239.1L1430.8,240.1L1431.3,241.2L1431.8,242.5L1432.3,243.9L1432.8,245.5L1433.3,247.3L1433.9,249.3L1434.4,251.5L1434.9,254.0L1435.4,256.8L1435.9,259.8L1436.4,263.2L1436.9,267.0L1437.5,271.1L1438.0,275.6L1438.5,280.6L1439.0,286.0L1439.5,291.9L1440.0,298.3L1440.5,305.3L1441.1,312.8L1441.6,320.9L1442.1,329.5L1442.6,338.6L1443.1,348.3L1443.6,358.5L1444.1,369.1L1444.7,380.0L1445.2,391.1L1445.7,402.4L1446.2,413.5L1446.7,424.4L1447.2,434.8L1447.7,444.5L1448.2,453.0L1448.8,460.2L1449.3,465.6L1449.8,468.9L1450.3,469.8L1450.8,468.0L1451.3,463.0L1451.8,454.8L1452.4,443.1L1452.9,428.0L1453.4,409.4L1453.9,387.5L1454.4,362.6L1454.9,335.1L1455.4,305.6L1456.0,274.8L1456.5,243.2L1457.0,211.5L1457.5,180.7L1458.0,151.2L1458.5,123.7L1459.0,98.8L1459.6,76.9L1460.1,58.3L1460.6,43.2L1461.1,31.5L1461.6,23.3L1462.1,18.3L1462.6,16.5L1463.2,17.4L1463.7,20.7L1464.2,26.1L1464.7,33.3L1465.2,41.8L1465.7,51.5L1466.2,61.9L1466.8,72.8L1467.3,83.9L1467.8,95.2L1468.3,106.3L1468.8,117.2L1469.3,127.8L1469.8,138.0L1470.4,147.7L1470.9,156.8L1471.4,165.4L1471.9,173.5L1472.4,181.0L1472.9,188.0L1473.4,194.4L1474.0,200.3L1474.5,205.7L1475.0,210.7L1475.5,215.2L1476.0,219.3L1476.5,223.1L1477.0,226.5L1477.6,229.5L1478.1,232.3L1478.6,234.8L1479.1,237.0L1479.6,239.0L1480.1,240.8L1480.6,242.4L1481.2,243.8L1481.7,245.1L1482.2,246.2L1482.7,247.2L1483.2,248.0L1483.7,248.8L1484.2,249.4L1484.8,250.0L1485.3,250.5L1485.8,250.9L1486.3,251.3L1486.8,251.6L1487.3,251.8L1487.8,252.0L1488.3,252.2L1488.9,252.3L1489.4,252.4L1489.9,252.4L1490.4,252.5L1490.9,252.5L1491.4,252.5L1491.9,252.5L1492.5,252.4L1493.0,252.4L1493.5,252.3L1494.0,252.2L1494.5,252.1L1495.0,252.0L1495.5,251.9L1496.1,251.8L1496.6,251.7L1497.1,251.6L1497.6,251.5L1498.1,251.3L1498.6,251.2L1499.1,251.1L1499.7,251.0L1500.2,250.8L1500.7,250.7L1501.2,250.6L1501.7,250.4L1502.2,250.3L1502.7,250.2L1503.3,250.1L1503.8,249.9L1504.3,249.8L1504.8,249.7L1505.3,249.6L1505.8,249.4L1506.3,249.3L1506.9,249.2L1507.4,249.1L1507.9,249.0L1508.4,248.9L1508.9,248.8L1509.4,248.6L1509.9,248.5L1510.5,248.4L1511.0,248.3L1511.5,248.2L1512.0,248.1L1512.5,248.0L1513.0,247.9L1513.5,247.9L1514.1,247.8L1514.6,247.7L1515.1,247.6L1515.6,247.5L1516.1,247.4L1516.6,247.3L1517.1,247.3L1517.7,247.2L1518.2,247.1L1518.7,247.0L1519.2,247.0L1519.7,246.9L1520.2,246.8L1520.7,246.8L1521.3,246.7L1521.8,246.6L1522.3,246.6L1522.8,246.5L1523.3,246.4L1523.8,246.4L1524.3,246.3L1524.9,246.3L1525.4,246.2L1525.9,246.1L1526.4,246.1L1526.9,246.0L1527.4,246.0L1527.9,245.9L1528.4,245.9L1529.0,245.8L1529.5,245.8L1530.0,245.7L1530.5,245.7L1531.0,245.7L1531.5,245.6L1532.0,245.6L1532.6,245.5L1533.1,245.5L1533.6,245.5L1534.1,245.4L1534.6,245.4L1535.1,245.3L1535.6,245.3L1536.2,245.3L1536.7,245.2L1537.2,245.2L1537.7,245.2L1538.2,245.1L1538.7,245.1L1539.2,245.1L1539.8,245.0L1540.3,245.0L1540.8,245.0L1541.3,244.9L1541.8,244.9L1542.3,244.9L1542.8,244.9L1543.4,244.8L1543.9,244.8L1544.4,244.8L1544.9,244.8L1545.4,244.7L1545.9,244.7L1546.4,244.7L1547.0,244.7L1547.5,244.6L1548.0,244.6L1548.5,244.6L1549.0,244.6L1549.5,244.6L1550.0,244.5L1550.6,244.5L1551.1,244.5L1551.6,244.5L1552.1,244.5L1552.6,244.4L1553.1,244.4L1553.6,244.4L1554.2,244.4L1554.7,244.4L1555.2,244.3L1555.7,244.3L1556.2,244.3L1556.7,244.3L1557.2,244.3L1557.8,244.3L1558.3,244.3L1558.8,244.2L1559.3,244.2L1559.8,244.2L1560.3,244.2L1560.8,244.2L1561.4,244.2L1561.9,244.2L1562.4,244.1L1562.9,244.1L1563.4,244.1L1563.9,244.1L1564.4,244.1L1565.0,244.1L1565.5,244.1L1566.0,244.1L1566.5,244.0L1567.0,244.0L1567.5,244.0L1568.0,244.0L1568.6,244.0L1569.1,244.0L1569.6,244.0L1570.1,244.0L1570.6,244.0L1571.1,243.9L1571.6,243.9L1572.1,243.9L1572.7,243.9L1573.2,243.9L1573.7,243.9L1574.2,243.9L1574.7,243.9L1575.2,243.9L1575.7,243.9L1576.3,243.9L1576.8,243.8L1577.3,243.8L1577.8,243.8L1578.3,243.8L1578.8,243.8L1579.3,243.8L1579.9,243.8L1580.4,243.8L1580.9,243.8L1581.4,243.8L1581.9,243.8L1582.4,243.8L1582.9,243.8L1583.5,243.7L1584.0,243.7L1584.5,243.7L1585.0,243.7L1585.5,243.7L1586.0,243.7L1586.5,243.7L1587.1,243.7L1587.6,243.7L1588.1,243.7L1588.6,243.7L1589.1,243.7L1589.6,243.7L1590.1,243.7L1590.7,243.7L1591.2,243.7L1591.7,243.6L1592.2,243.6L1592.7,243.6L1593.2,243.6L1593.7,243.6L1594.3,243.6L1594.8,243.6L1595.3,243.6L1595.8,243.6L1596.3,243.6L1596.8,243.6L1597.3,243.6L1597.9,243.6L1598.4,243.6L1598.9,243.6L1599.4,243.6L1599.9,243.6L1600.4,243.6L1600.9,243.6L1601.5,243.6L1602.0,243.6L1602.5,243.5L1603.0,243.5L1603.5,243.5L1604.0,243.5L1604.5,243.5L1605.1,243.5L1605.6,243.5L1606.1,243.5L1606.6,243.5L1607.1,243.5L1607.6,243.5L1608.1,243.5L1608.7,243.5L1609.2,243.5L1609.7,243.5L1610.2,243.5L1610.7,243.5L1611.2,243.5L1611.7,243.5L1612.2,243.5L1612.8,243.5L1613.3,243.5L1613.8,243.5L1614.3,243.5L1614.8,243.5L1615.3,243.5L1615.8,243.5L1616.4,243.5L1616.9,243.5L1617.4,243.5L1617.9,243.4L1618.4,243.4L1618.9,243.4L1619.4,243.4L1620.0,243.4L1620.5,243.4L1621.0,243.4L1621.5,243.4L1622.0,243.4L1622.5,243.4L1623.0,243.4L1623.6,243.4L1624.1,243.4L1624.6,243.4L1625.1,243.4L1625.6,243.4L1626.1,243.4L1626.6,243.4L1627.2,243.4L1627.7,243.4L1628.2,243.4L1628.7,243.4L1629.2,243.4L1629.7,243.4L1630.2,243.4L1630.8,243.4L1631.3,243.4L1631.8,243.4L1632.3,243.4L1632.8,243.4L1633.3,243.4L1633.8,243.4L1634.4,243.4L1634.9,243.4L1635.4,243.4L1635.9,243.4L1636.4,243.4L1636.9,243.4L1637.4,243.4L1638.0,243.4L1638.5,243.4L1639.0,243.4L1639.5,243.4L1640.0,243.4L1640.5,243.4L1641.0,243.4L1641.6,243.4L1642.1,243.3L1642.6,243.3L1643.1,243.3L1643.6,243.3L1644.1,243.3L1644.6,243.3L1645.2,243.3L1645.7,243.3L1646.2,243.3L1646.7,243.3L1647.2,243.3L1647.7,243.3L1648.2,243.3L1648.8,243.3L1649.3,243.3L1649.8,243.3L1650.3,243.3L1650.8,243.3L1651.3,243.3L1651.8,243.3L1652.3,243.3L1652.9,243.3L1653.4,243.3L1653.9,243.3L1654.4,243.3L1654.9,243.3L1655.4,243.3L1655.9,243.3L1656.5,243.3L1657.0,243.3L1657.5,243.3L1658.0,243.3L1658.5,243.3L1659.0,243.3L1659.5,243.3L1660.1,243.3L1660.6,243.3L1661.1,243.3L1661.6,243.3L1662.1,243.3L1662.6,243.3L1663.1,243.3L1663.7,243.3L1664.2,243.3L1664.7,243.3L1665.2,243.3L1665.7,243.3L1666.2,243.3L1666.7,243.3L1667.3,243.3L1667.8,243.3L1668.3,243.3L1668.8,243.3L1669.3,243.3L1669.8,243.3L1670.3,243.3L1670.9,243.3L1671.4,243.3L1671.9,243.3L1672.4,243.3L1672.9,243.3L1673.4,243.3L1673.9,243.3L1674.5,243.3L1675.0,243.3L1675.5,243.3L1676.0,243.3L1676.5,243.3L1677.0,243.3L1677.5,243.3L1678.1,243.3L1678.6,243.3L1679.1,243.3L1679.6,243.3L1680.1,243.3L1680.6,243.3L1681.1,243.3L1681.7,243.3L1682.2,243.3L1682.7,243.3L1683.2,243.3L1683.7,243.3L1684.2,243.3L1684.7,243.3L1685.3,243.3L1685.8,243.3L1686.3,243.3L1686.8,243.3L1687.3,243.3L1687.8,243.3L1688.3,243.3L1688.9,243.3L1689.4,243.3L1689.9,243.3L1690.4,243.3L1690.9,243.2L1691.4,243.2L1691.9,243.2L1692.5,243.2L1693.0,243.2L1693.5,243.2L1694.0,243.2L1694.5,243.2L1695.0,243.2L1695.5,243.2L1696.0,243.2L1696.6,243.2L1697.1,243.2L1697.6,243.2L1698.1,243.2L1698.6,243.2L1699.1,243.2L1699.6,243.2L1700.2,243.2L1700.7,243.2L1701.2,243.2L1701.7,243.2L1702.2,243.2L1702.7,243.2L1703.2,243.2L1703.8,243.2L1704.3,243.2L1704.8,243.2L1705.3,243.2L1705.8,243.2L1706.3,243.2L1706.8,243.2L1707.4,243.2L1707.9,243.2L1708.4,243.2L1708.9,243.2L1709.4,243.2L1709.9,243.2L1710.4,243.2L1711.0,243.2L1711.5,243.2L1712.0,243.2L1712.5,243.2L1713.0,243.2L1713.5,243.2L1714.0,243.2L1714.6,243.2L1715.1,243.2L1715.6,243.2L1716.1,243.2L1716.6,243.2L1717.1,243.2L1717.6,243.2L1718.2,243.2L1718.7,243.2L1719.2,243.2L1719.7,243.2L1720.2,243.2L1720.7,243.2L1721.2,243.2L1721.8,243.2L1722.3,243.2L1722.8,243.2L1723.3,243.2L1723.8,243.2L1724.3,243.2L1724.8,243.2L1725.4,243.2L1725.9,243.2L1726.4,243.2L1726.9,243.2L1727.4,243.2L1727.9,243.2L1728.4,243.2L1729.0,243.2L1729.5,243.2L1730.0,243.2L1730.5,243.2L1731.0,243.2L1731.5,243.2L1732.0,243.2L1732.6,243.2L1733.1,243.2L1733.6,243.2L1734.1,243.2L1734.6,243.2L1735.1,243.2L1735.6,243.2L1736.1,243.2L1736.7,243.2L1737.2,243.2L1737.7,243.2L1738.2,243.2L1738.7,243.2L1739.2,243.2L1739.7,243.2L1740.3,243.2L1740.8,243.2L1741.3,243.2L1741.8,243.2L1742.3,243.2L1742.8,243.2L1743.3,243.2L1743.9,243.2L1744.4,243.2L1744.9,243.2L1745.4,243.2L1745.9,243.2L1746.4,243.2L1746.9,243.2L1747.5,243.2L1748.0,243.2L1748.5,243.2L1749.0,243.2L1749.5,243.2L1750.0,243.2L1750.5,243.2L1751.1,243.2L1751.6,243.2L1752.1,243.2L1752.6,243.2L1753.1,243.2L1753.6,243.2L1754.1,243.2L1754.7,243.2L1755.2,243.2L1755.7,243.2L1756.2,243.2L1756.7,243.2L1757.2,243.2L1757.7,243.2L1758.3,243.2L1758.8,243.2L1759.3,243.2L1759.8,243.2L1760.3,243.2L1760.8,243.2L1761.3,243.2L1761.9,243.2L1762.4,243.2L1762.9,243.2L1763.4,243.2L1763.9,243.2L1764.4,243.2L1764.9,243.2L1765.5,243.2L1766.0,243.2L1766.5,243.2L1767.0,243.2L1767.5,243.2L1768.0,243.2L1768.5,243.2L1769.1,243.2L1769.6,243.2L1770.1,243.2L1770.6,243.2L1771.1,243.2L1771.6,243.2L1772.1,243.2L1772.7,243.2L1773.2,243.2L1773.7,243.2L1774.2,243.2L1774.7,243.2L1775.2,243.2L1775.7,243.2L1776.2,243.2L1776.8,243.2L1777.3,243.2L1777.8,243.2L1778.3,243.2L1778.8,243.2L1779.3,243.2L1779.8,243.2L1780.4,243.2L1780.9,243.2L1781.4,243.2L1781.9,243.2L1782.4,243.2L1782.9,243.2L1783.4,243.2L1784.0,243.2L1784.5,243.2L1785.0,243.2L1785.5,243.2L1786.0,243.2L1786.5,243.2L1787.0,243.2L1787.6,243.2L1788.1,243.2L1788.6,243.2L1789.1,243.2L1789.6,243.2L1790.1,243.2L1790.6,243.2L1791.2,243.2L1791.7,243.2L1792.2,243.2L1792.7,243.2L1793.2,243.2L1793.7,243.2L1794.2,243.2L1794.8,243.2L1795.3,243.2L1795.8,243.2L1796.3,243.2L1796.8,243.2L1797.3,243.2L1797.8,243.2L1798.4,243.2L1798.9,243.2L1799.4,243.2L1799.9,243.2L1800.4,243.2L1800.9,243.2L1801.4,243.2L1802.0,243.2L1802.5,243.2L1803.0,243.2L1803.5,243.2L1804.0,243.2L1804.5,243.2L1805.0,243.2L1805.6,243.2L1806.1,243.2L1806.6,243.2L1807.1,243.2L1807.6,243.2L1808.1,243.2L1808.6,243.2L1809.2,243.2L1809.7,243.2L1810.2,243.2L1810.7,243.2L1811.2,243.2L1811.7,243.2L1812.2,243.2L1812.8,243.2L1813.3,243.2L1813.8,243.2L1814.3,243.2L1814.8,243.2L1815.3,243.2L1815.8,243.2L1816.3,243.2" stroke="#0000ff" stroke-linecap="square"/>
<path d="M1096.6,243.2L1097.1,243.2L1097.6,243.2L1098.1,243.2L1098.7,243.2L1099.2,243.2L1099.7,243.2L1100.2,243.2L1100.7,243.2L1101.2,243.2L1101.7,243.2L1102.3,243.2L1102.8,243.2L1103.3,243.2L1103.8,243.2L1104.3,243.2L1104.8,243.2L1105.3,243.2L1105.9,243.2L1106.4,243.2L1106.9,243.2L1107.4,243.2L1107.9,243.2L1108.4,243.2L1108.9,243.2L1109.5,243.2L1110.0,243.2L1110.5,243.2L1111.0,243.2L1111.5,243.2L1112.0,243.2L1112.5,243.2L1113.1,243.2L1113.6,243.2L1114.1,243.2L1114.6,243.2L1115.1,243.2L1115.6,243.2L1116.1,243.2L1116.7,243.2L1117.2,243.2L1117.7,243.2L1118.2,243.2L1118.7,243.2L1119.2,243.2L1119.7,243.2L1120.2,243.2L1120.8,243.2L1121.3,243.2L1121.8,243.2L1122.3,243.2L1122.8,243.2L1123.3,243.2L1123.8,243.2L1124.4,243.2L1124.9,243.2L1125.4,243.2L1125.9,243.2L1126.4,243.2L1126.9,243.2L1127.4,243.2L1128.0,243.2L1128.5,243.2L1129.0,243.2L1129.5,243.2L1130.0,243.2L1130.5,243.2L1131.0,243.2L1131.6,243.2L1132.1,243.2L1132.6,243.2L1133.1,243.2L1133.6,243.2L1134.1,243.2L1134.6,243.2L1135.2,243.2L1135.7,243.2L1136.2,243.2L1136.7,243.2L1137.2,243.2L1137.7,243.2L1138.2,243.2L1138.8,243.2L1139.3,243.2L1139.8,243.2L1140.3,243.2L1140.8,243.2L1141.3,243.2L1141.8,243.2L1142.4,243.2L1142.9,243.2L1143.4,243.2L1143.9,243.2L1144.4,243.2L1144.9,243.2L1145.4,243.2L1146.0,243.2L1146.5,243.2L1147.0,243.2L1147.5,243.2L1148.0,243.2L1148.5,243.2L1149.0,243.2L1149.6,243.2L1150.1,243.2L1150.6,243.2L1151.1,243.2L1151.6,243.2L1152.1,243.2L1152.6,243.2L1153.2,243.2L1153.7,243.2L1154.2,243.2L1154.7,243.2L1155.2,243.2L1155.7,243.2L1156.2,243.2L1156.8,243.2L1157.3,243.2L1157.8,243.2L1158.3,243.2L1158.8,243.2L1159.3,243.2L1159.8,243.2L1160.3,243.2L1160.9,243.2L1161.4,243.2L1161.9,243.2L1162.4,243.2L1162.9,243.2L1163.4,243.2L1163.9,243.2L1164.5,243.2L1165.0,243.2L1165.5,243.2L1166.0,243.2L1166.5,243.2L1167.0,243.2L1167.5,243.2L1168.1,243.2L1168.6,243.2L1169.1,243.2L1169.6,243.2L1170.1,243.2L1170.6,243.2L1171.1,243.2L1171.7,243.2L1172.2,243.2L1172.7,243.2L1173.2,243.2L1173.7,243.2L1174.2,243.2L1174.7,243.2L1175.3,243.2L1175.8,243.2L1176.3,243.2L1176.8,243.2L1177.3,243.2L1177.8,243.2L1178.3,243.2L1178.9,243.2L1179.4,243.2L1179.9,243.2L1180.4,243.2L1180.9,243.2L1181.4,243.2L1181.9,243.2L1182.5,243.2L1183.0,243.2L1183.5,243.2L1184.0,243.2L1184.5,243.2L1185.0,243.2L1185.5,243.2L1186.1,243.2L1186.6,243.2L1187.1,243.2L1187.6,243.2L1188.1,243.2L1188.6,243.2L1189.1,243.2L1189.7,243.2L1190.2,243.2L1190.7,243.2L1191.2,243.2L1191.7,243.2L1192.2,243.2L1192.7,243.2L1193.3,243.2L1193.8,243.2L1194.3,243.2L1194.8,243.2L1195.3,243.2L1195.8,243.2L1196.3,243.2L1196.9,243.2L1197.4,243.2L1197.9,243.2L1198.4,243.2L1198.9,243.2L1199.4,243.2L1199.9,243.2L1200.4,243.2L1201.0,243.2L1201.5,243.2L1202.0,243.2L1202.5,243.1L1203.0,243.1L1203.5,243.1L1204.0,243.1L1204.6,243.1L1205.1,243.1L1205.6,243.1L1206.1,243.1L1206.6,243.1L1207.1,243.1L1207.6,243.1L1208.2,243.1L1208.7,243.1L1209.2,243.1L1209.7,243.1L1210.2,243.1L1210.7,243.1L1211.2,243.1L1211.8,243.1L1212.3,243.1L1212.8,243.1L1213.3,243.1L1213.8,243.1L1214.3,243.1L1214.8,243.1L1215.4,243.1L1215.9,243.1L1216.4,243.1L1216.9,243.1L1217.4,243.1L1217.9,243.1L1218.4,243.1L1219.0,243.1L1219.5,243.1L1220.0,243.1L1220.5,243.1L1221.0,243.1L1221.5,243.1L1222.0,243.1L1222.6,243.1L1223.1,243.1L1223.6,243.1L1224.1,243.1L1224.6,243.1L1225.1,243.0L1225.6,243.0L1226.2,243.0L1226.7,243.0L1227.2,243.0L1227.7,243.0L1228.2,243.0L1228.7,243.0L1229.2,243.0L1229.8,243.0L1230.3,243.0L1230.8,243.0L1231.3,243.0L1231.8,243.0L1232.3,243.0L1232.8,243.0L1233.4,243.0L1233.9,243.0L1234.4,243.0L1234.9,243.0L1235.4,242.9L1235.9,242.9L1236.4,242.9L1237.0,242.9L1237.5,242.9L1238.0,242.9L1238.5,242.9L1239.0,242.9L1239.5,242.9L1240.0,242.9L1240.5,242.9L1241.1,242.9L1241.6,242.9L1242.1,242.8L1242.6,242.8L1243.1,242.8L1243.6,242.8L1244.1,242.8L1244.7,242.8L1245.2,242.8L1245.7,242.8L1246.2,242.8L1246.7,242.8L1247.2,242.7L1247.7,242.7L1248.3,242.7L1248.8,242.7L1249.3,242.7L1249.8,242.7L1250.3,242.7L1250.8,242.7L1251.3,242.7L1251.9,242.6L1252.4,242.6L1252.9,242.6L1253.4,242.6L1253.9,242.6L1254.4,242.6L1254.9,242.6L1255.5,242.6L1256.0,242.5L1256.5,242.5L1257.0,242.5L1257.5,242.5L1258.0,242.5L1258.5,242.5L1259.1,242.5L1259.6,242.4L1260.1,242.4L1260.6,242.4L1261.1,242.4L1261.6,242.4L1262.1,242.4L1262.7,242.3L1263.2,242.3L1263.7,242.3L1264.2,242.3L1264.7,242.3L1265.2,242.3L1265.7,242.3L1266.3,242.2L1266.8,242.2L1267.3,242.2L1267.8,242.2L1268.3,242.2L1268.8,242.2L1269.3,242.1L1269.9,242.1L1270.4,242.1L1270.9,242.1L1271.4,242.1L1271.9,242.1L1272.4,242.0L1272.9,242.0L1273.5,242.0L1274.0,242.0L1274.5,242.0L1275.0,242.0L1275.5,241.9L1276.0,241.9L1276.5,241.9L1277.1,241.9L1277.6,241.9L1278.1,241.9L1278.6,241.9L1279.1,241.9L1279.6,241.8L1280.1,241.8L1280.7,241.8L1281.2,241.8L1281.7,241.8L1282.2,241.8L1282.7,241.8L1283.2,241.8L1283.7,241.8L1284.2,241.8L1284.8,241.8L1285.3,241.7L1285.8,241.7L1286.3,241.7L1286.8,241.7L1287.3,241.7L1287.8,241.7L1288.4,241.7L1288.9,241.7L1289.4,241.7L1289.9,241.8L1290.4,241.8L1290.9,241.8L1291.4,241.8L1292.0,241.8L1292.5,241.8L1293.0,241.8L1293.5,241.8L1294.0,241.9L1294.5,241.9L1295.0,241.9L1295.6,241.9L1296.1,242.0L1296.6,242.0L1297.1,242.0L1297.6,242.0L1298.1,242.1L1298.6,242.1L1299.2,242.2L1299.7,242.2L1300.2,242.3L1300.7,242.3L1301.2,242.4L1301.7,242.4L1302.2,242.5L1302.8,242.5L1303.3,242.6L1303.8,242.7L1304.3,242.7L1304.8,242.8L1305.3,242.9L1305.8,243.0L1306.4,243.1L1306.9,243.2L1307.4,243.3L1307.9,243.4L1308.4,243.5L1308.9,243.6L1309.4,243.7L1310.0,243.8L1310.5,243.9L1311.0,244.1L1311.5,244.2L1312.0,244.3L1312.5,244.5L1313.0,244.6L1313.6,244.8L1314.1,244.9L1314.6,245.1L1315.1,245.2L1315.6,245.4L1316.1,245.6L1316.6,245.8L1317.2,246.0L1317.7,246.2L1318.2,246.4L1318.7,246.6L1319.2,246.8L1319.7,247.0L1320.2,247.2L1320.8,247.5L1321.3,247.7L1321.8,247.9L1322.3,248.2L1322.8,248.4L1323.3,248.7L1323.8,248.9L1324.3,249.2L1324.9,249.5L1325.4,249.8L1325.9,250.0L1326.4,250.3L1326.9,250.6L1327.4,250.9L1327.9,251.2L1328.5,251.5L1329.0,251.9L1329.5,252.2L1330.0,252.5L1330.5,252.8L1331.0,253.2L1331.5,253.5L1332.1,253.8L1332.6,254.2L1333.1,254.5L1333.6,254.8L1334.1,255.2L1334.6,255.5L1335.1,255.9L1335.7,256.2L1336.2,256.6L1336.7,256.9L1337.2,257.3L1337.7,257.6L1338.2,258.0L1338.7,258.3L1339.3,258.7L1339.8,259.0L1340.3,259.3L1340.8,259.7L1341.3,260.0L1341.8,260.3L1342.3,260.6L1342.9,260.9L1343.4,261.2L1343.9,261.5L1344.4,261.8L1344.9,262.1L1345.4,262.3L1345.9,262.6L1346.5,262.8L1347.0,263.0L1347.5,263.2L1348.0,263.4L1348.5,263.6L1349.0,263.7L1349.5,263.9L1350.1,264.0L1350.6,264.1L1351.1,264.1L1351.6,264.2L1352.1,264.2L1352.6,264.2L1353.1,264.2L1353.7,264.1L1354.2,264.0L1354.7,263.9L1355.2,263.8L1355.7,263.6L1356.2,263.4L1356.7,263.2L1357.3,262.9L1357.8,262.6L1358.3,262.2L1358.8,261.8L1359.3,261.4L1359.8,260.9L1360.3,260.4L1360.9,259.8L1361.4,259.2L1361.9,258.6L1362.4,257.9L1362.9,257.1L1363.4,256.3L1363.9,255.5L1364.4,254.6L1365.0,253.6L1365.5,252.6L1366.0,251.6L1366.5,250.5L1367.0,249.4L1367.5,248.1L1368.0,246.9L1368.6,245.6L1369.1,244.2L1369.6,242.8L1370.1,241.3L1370.6,239.8L1371.1,238.2L1371.6,236.6L1372.2,234.9L1372.7,233.2L1373.2,231.4L1373.7,229.6L1374.2,227.7L1374.7,225.7L1375.2,223.8L1375.8,221.7L1376.3,219.7L1376.8,217.6L1377.3,215.4L1377.8,213.2L1378.3,211.0L1378.8,208.7L1379.4,206.5L1379.9,204.1L1380.4,201.8L1380.9,199.4L1381.4,197.1L1381.9,194.7L1382.4,192.2L1383.0,189.8L1383.5,187.4L1384.0,185.0L1384.5,182.6L1385.0,180.1L1385.5,177.7L1386.0,175.4L1386.6,173.0L1387.1,170.7L1387.6,168.4L1388.1,166.1L1388.6,163.9L1389.1,161.7L1389.6,159.6L1390.2,157.5L1390.7,155.5L1391.2,153.6L1391.7,151.7L1392.2,150.0L1392.7,148.3L1393.2,146.7L1393.8,145.2L1394.3,143.8L1394.8,142.6L1395.3,141.4L1395.8,140.4L1396.3,139.5L1396.8,138.8L1397.4,138.2L1397.9,137.7L1398.4,137.4L1398.9,137.2L1399.4,137.3L1399.9,137.5L1400.4,137.8L1401.0,138.4L1401.5,139.1L1402.0,140.0L1402.5,141.1L1403.0,142.4L1403.5,143.9L1404.0,145.6L1404.6,147.5L1405.1,149.7L1405.6,152.0L1406.1,154.5L1406.6,157.3L1407.1,160.3L1407.6,163.4L1408.1,166.8L1408.7,170.4L1409.2,174.2L1409.7,178.3L1410.2,182.5L1410.7,186.9L1411.2,191.6L1411.7,196.4L1412.3,201.5L1412.8,206.7L1413.3,212.1L1413.8,217.7L1414.3,223.4L1414.8,229.3L1415.3,235.4L1415.9,241.6L1416.4,248.0L1416.9,254.5L1417.4,261.1L1417.9,267.8L1418.4,274.6L1418.9,281.5L1419.5,288.5L1420.0,295.5L1420.5,302.6L1421.0,309.7L1421.5,316.9L1422.0,324.0L1422.5,331.2L1423.1,338.3L1423.6,345.4L1424.1,352.5L1424.6,359.5L1425.1,366.4L1425.6,373.2L1426.1,379.9L1426.7,386.5L1427.2,392.9L1427.7,399.2L1428.2,405.3L1428.7,411.2L1429.2,416.9L1429.7,422.4L1430.3,427.7L1430.8,432.7L1431.3,437.5L1431.8,441.9L1432.3,446.1L1432.8,450.0L1433.3,453.6L1433.9,456.8L1434.4,459.7L1434.9,462.3L1435.4,464.5L1435.9,466.3L1436.4,467.8L1436.9,468.9L1437.5,469.6L1438.0,469.9L1438.5,469.7L1439.0,469.2L1439.5,468.3L1440.0,467.0L1440.5,465.2L1441.1,463.1L1441.6,460.5L1442.1,457.5L1442.6,454.1L1443.1,450.3L1443.6,446.1L1444.1,441.5L1444.7,436.5L1445.2,431.2L1445.7,425.5L1446.2,419.4L1446.7,412.9L1447.2,406.1L1447.7,399.0L1448.2,391.6L1448.8,383.8L1449.3,375.8L1449.8,367.5L1450.3,359.0L1450.8,350.2L1451.3,341.2L1451.8,332.0L1452.4,322.6L1452.9,313.0L1453.4,303.3L1453.9,293.5L1454.4,283.5L1454.9,273.5L1455.4,263.4L1456.0,253.3L1456.5,243.2L1457.0,233.0L1457.5,222.9L1458.0,212.8L1458.5,202.8L1459.0,192.8L1459.6,183.0L1460.1,173.3L1460.6,163.7L1461.1,154.3L1461.6,145.1L1462.1,136.1L1462.6,127.3L1463.2,118.8L1463.7,110.5L1464.2,102.5L1464.7,94.7L1465.2,87.3L1465.7,80.2L1466.2,73.4L1466.8,66.9L1467.3,60.8L1467.8,55.1L1468.3,49.8L1468.8,44.8L1469.3,40.2L1469.8,36.0L1470.4,32.2L1470.9,28.8L1471.4,25.8L1471.9,23.2L1472.4,21.1L1472.9,19.3L1473.4,18.0L1474.0,17.1L1474.5,16.6L1475.0,16.4L1475.5,16.7L1476.0,17.4L1476.5,18.5L1477.0,20.0L1477.6,21.8L1478.1,24.0L1478.6,26.6L1479.1,29.5L1479.6,32.7L1480.1,36.3L1480.6,40.2L1481.2,44.4L1481.7,48.8L1482.2,53.6L1482.7,58.6L1483.2,63.9L1483.7,69.4L1484.2,75.1L1484.8,81.0L1485.3,87.1L1485.8,93.4L1486.3,99.8L1486.8,106.4L1487.3,113.1L1487.8,119.9L1488.3,126.8L1488.9,133.8L1489.4,140.9L1489.9,148.0L1490.4,155.1L1490.9,162.3L1491.4,169.4L1491.9,176.6L1492.5,183.7L1493.0,190.8L1493.5,197.8L1494.0,204.8L1494.5,211.7L1495.0,218.5L1495.5,225.2L1496.1,231.8L1496.6,238.3L1497.1,244.7L1497.6,250.9L1498.1,257.0L1498.6,262.9L1499.1,268.6L1499.7,274.2L1500.2,279.6L1500.7,284.8L1501.2,289.9L1501.7,294.7L1502.2,299.4L1502.7,303.8L1503.3,308.0L1503.8,312.1L1504.3,315.9L1504.8,319.5L1505.3,322.9L1505.8,326.0L1506.3,329.0L1506.9,331.8L1507.4,334.3L1507.9,336.6L1508.4,338.8L1508.9,340.7L1509.4,342.4L1509.9,343.9L1510.5,345.2L1511.0,346.3L1511.5,347.2L1512.0,347.9L1512.5,348.5L1513.0,348.8L1513.5,349.0L1514.1,349.1L1514.6,348.9L1515.1,348.6L1515.6,348.1L1516.1,347.5L1516.6,346.8L1517.1,345.9L1517.7,344.9L1518.2,343.7L1518.7,342.5L1519.2,341.1L1519.7,339.6L1520.2,338.0L1520.7,336.3L1521.3,334.6L1521.8,332.7L1522.3,330.8L1522.8,328.8L1523.3,326.7L1523.8,324.6L1524.3,322.4L1524.9,320.2L1525.4,317.9L1525.9,315.6L1526.4,313.3L1526.9,310.9L1527.4,308.6L1527.9,306.2L1528.4,303.7L1529.0,301.3L1529.5,298.9L1530.0,296.5L1530.5,294.1L1531.0,291.6L1531.5,289.2L1532.0,286.9L1532.6,284.5L1533.1,282.2L1533.6,279.8L1534.1,277.6L1534.6,275.3L1535.1,273.1L1535.6,270.9L1536.2,268.7L1536.7,266.6L1537.2,264.6L1537.7,262.5L1538.2,260.6L1538.7,258.6L1539.2,256.7L1539.8,254.9L1540.3,253.1L1540.8,251.4L1541.3,249.7L1541.8,248.1L1542.3,246.5L1542.8,245.0L1543.4,243.5L1543.9,242.1L1544.4,240.7L1544.9,239.4L1545.4,238.2L1545.9,236.9L1546.4,235.8L1547.0,234.7L1547.5,233.7L1548.0,232.7L1548.5,231.7L1549.0,230.8L1549.5,230.0L1550.0,229.2L1550.6,228.4L1551.1,227.7L1551.6,227.1L1552.1,226.5L1552.6,225.9L1553.1,225.4L1553.6,224.9L1554.2,224.5L1554.7,224.1L1555.2,223.7L1555.7,223.4L1556.2,223.1L1556.7,222.9L1557.2,222.7L1557.8,222.5L1558.3,222.4L1558.8,222.3L1559.3,222.2L1559.8,222.1L1560.3,222.1L1560.8,222.1L1561.4,222.1L1561.9,222.2L1562.4,222.2L1562.9,222.3L1563.4,222.4L1563.9,222.6L1564.4,222.7L1565.0,222.9L1565.5,223.1L1566.0,223.3L1566.5,223.5L1567.0,223.7L1567.5,224.0L1568.0,224.2L1568.6,224.5L1569.1,224.8L1569.6,225.1L1570.1,225.4L1570.6,225.7L1571.1,226.0L1571.6,226.3L1572.1,226.6L1572.7,227.0L1573.2,227.3L1573.7,227.6L1574.2,228.0L1574.7,228.3L1575.2,228.7L1575.7,229.0L1576.3,229.4L1576.8,229.7L1577.3,230.1L1577.8,230.4L1578.3,230.8L1578.8,231.1L1579.3,231.5L1579.9,231.8L1580.4,232.1L1580.9,232.5L1581.4,232.8L1581.9,233.1L1582.4,233.5L1582.9,233.8L1583.5,234.1L1584.0,234.4L1584.5,234.8L1585.0,235.1L1585.5,235.4L1586.0,235.7L1586.5,236.0L1587.1,236.3L1587.6,236.5L1588.1,236.8L1588.6,237.1L1589.1,237.4L1589.6,237.6L1590.1,237.9L1590.7,238.1L1591.2,238.4L1591.7,238.6L1592.2,238.8L1592.7,239.1L1593.2,239.3L1593.7,239.5L1594.3,239.7L1594.8,239.9L1595.3,240.1L1595.8,240.3L1596.3,240.5L1596.8,240.7L1597.3,240.9L1597.9,241.1L1598.4,241.2L1598.9,241.4L1599.4,241.5L1599.9,241.7L1600.4,241.8L1600.9,242.0L1601.5,242.1L1602.0,242.2L1602.5,242.4L1603.0,242.5L1603.5,242.6L1604.0,242.7L1604.5,242.8L1605.1,242.9L1605.6,243.0L1606.1,243.1L1606.6,243.2L1607.1,243.3L1607.6,243.4L1608.1,243.5L1608.7,243.6L1609.2,243.6L1609.7,243.7L1610.2,243.8L1610.7,243.8L1611.2,243.9L1611.7,243.9L1612.2,244.0L1612.8,244.0L1613.3,244.1L1613.8,244.1L1614.3,244.2L1614.8,244.2L1615.3,244.3L1615.8,244.3L1616.4,244.3L1616.9,244.3L1617.4,244.4L1617.9,244.4L1618.4,244.4L1618.9,244.4L1619.4,244.5L1620.0,244.5L1620.5,244.5L1621.0,244.5L1621.5,244.5L1622.0,244.5L1622.5,244.5L1623.0,244.5L1623.6,244.6L1624.1,244.6L1624.6,244.6L1625.1,244.6L1625.6,244.6L1626.1,244.6L1626.6,244.6L1627.2,244.6L1627.7,244.6L1628.2,244.5L1628.7,244.5L1629.2,244.5L1629.7,244.5L1630.2,244.5L1630.8,244.5L1631.3,244.5L1631.8,244.5L1632.3,244.5L1632.8,244.5L1633.3,244.5L1633.8,244.4L1634.4,244.4L1634.9,244.4L1635.4,244.4L1635.9,244.4L1636.4,244.4L1636.9,244.4L1637.4,244.4L1638.0,244.3L1638.5,244.3L1639.0,244.3L1639.5,244.3L1640.0,244.3L1640.5,244.3L1641.0,244.2L1641.6,244.2L1642.1,244.2L1642.6,244.2L1643.1,244.2L1643.6,244.2L1644.1,244.1L1644.6,244.1L1645.2,244.1L1645.7,244.1L1646.2,244.1L1646.7,244.1L1647.2,244.0L1647.7,244.0L1648.2,244.0L1648.8,244.0L1649.3,244.0L1649.8,244.0L1650.3,244.0L1650.8,243.9L1651.3,243.9L1651.8,243.9L1652.3,243.9L1652.9,243.9L1653.4,243.9L1653.9,243.8L1654.4,243.8L1654.9,243.8L1655.4,243.8L1655.9,243.8L1656.5,243.8L1657.0,243.8L1657.5,243.7L1658.0,243.7L1658.5,243.7L1659.0,243.7L1659.5,243.7L1660.1,243.7L1660.6,243.7L1661.1,243.7L1661.6,243.6L1662.1,243.6L1662.6,243.6L1663.1,243.6L1663.7,243.6L1664.2,243.6L1664.7,243.6L1665.2,243.6L1665.7,243.6L1666.2,243.5L1666.7,243.5L1667.3,243.5L1667.8,243.5L1668.3,243.5L1668.8,243.5L1669.3,243.5L1669.8,243.5L1670.3,243.5L1670.9,243.5L1671.4,243.4L1671.9,243.4L1672.4,243.4L1672.9,243.4L1673.4,243.4L1673.9,243.4L1674.5,243.4L1675.0,243.4L1675.5,243.4L1676.0,243.4L1676.5,243.4L1677.0,243.4L1677.5,243.4L1678.1,243.3L1678.6,243.3L1679.1,243.3L1679.6,243.3L1680.1,243.3L1680.6,243.3L1681.1,243.3L1681.7,243.3L1682.2,243.3L1682.7,243.3L1683.2,243.3L1683.7,243.3L1684.2,243.3L1684.7,243.3L1685.3,243.3L1685.8,243.3L1686.3,243.3L1686.8,243.3L1687.3,243.3L1687.8,243.3L1688.3,243.2L1688.9,243.2L1689.4,243.2L1689.9,243.2L1690.4,243.2L1690.9,243.2L1691.4,243.2L1691.9,243.2L1692.5,243.2L1693.0,243.2L1693.5,243.2L1694.0,243.2L1694.5,243.2L1695.0,243.2L1695.5,243.2L1696.0,243.2L1696.6,243.2L1697.1,243.2L1697.6,243.2L1698.1,243.2L1698.6,243.2L1699.1,243.2L1699.6,243.2L1700.2,243.2L1700.7,243.2L1701.2,243.2L1701.7,243.2L1702.2,243.2L1702.7,243.2L1703.2,243.2L1703.8,243.2L1704.3,243.2L1704.8,243.2L1705.3,243.2L1705.8,243.2L1706.3,243.2L1706.8,243.2L1707.4,243.2L1707.9,243.2L1708.4,243.2L1708.9,243.2L1709.4,243.2L1709.9,243.2L1710.4,243.2L1711.0,243.1L1711.5,243.1L1712.0,243.1L1712.5,243.1L1713.0,243.1L1713.5,243.1L1714.0,243.1L1714.6,243.1L1715.1,243.1L1715.6,243.1L1716.1,243.1L1716.6,243.1L1717.1,243.1L1717.6,243.1L1718.2,243.1L1718.7,243.1L1719.2,243.1L1719.7,243.1L1720.2,243.1L1720.7,243.1L1721.2,243.1L1721.8,243.1L1722.3,243.1L1722.8,243.1L1723.3,243.1L1723.8,243.1L1724.3,243.1L1724.8,243.1L1725.4,243.1L1725.9,243.1L1726.4,243.1L1726.9,243.1L1727.4,243.1L1727.9,243.1L1728.4,243.1L1729.0,243.1L1729.5,243.1L1730.0,243.1L1730.5,243.1L1731.0,243.1L1731.5,243.1L1732.0,243.1L1732.6,243.1L1733.1,243.1L1733.6,243.1L1734.1,243.1L1734.6,243.1L1735.1,243.1L1735.6,243.1L1736.1,243.1L1736.7,243.1L1737.2,243.1L1737.7,243.1L1738.2,243.1L1738.7,243.1L1739.2,243.1L1739.7,243.1L1740.3,243.1L1740.8,243.1L1741.3,243.1L1741.8,243.1L1742.3,243.1L1742.8,243.1L1743.3,243.1L1743.9,243.1L1744.4,243.1L1744.9,243.1L1745.4,243.1L1745.9,243.1L1746.4,243.1L1746.9,243.1L1747.5,243.1L1748.0,243.1L1748.5,243.1L1749.0,243.1L1749.5,243.1L1750.0,243.1L1750.5,243.1L1751.1,243.1L1751.6,243.1L1752.1,243.1L1752.6,243.1L1753.1,243.1L1753.6,243.1L1754.1,243.1L1754.7,243.1L1755.2,243.1L1755.7,243.1L1756.2,243.1L1756.7,243.1L1757.2,243.1L1757.7,243.1L1758.3,243.1L1758.8,243.1L1759.3,243.1L1759.8,243.1L1760.3,243.1L1760.8,243.1L1761.3,243.1L1761.9,243.1L1762.4,243.1L1762.9,243.1L1763.4,243.1L1763.9,243.1L1764.4,243.1L1764.9,243.1L1765.5,243.1L1766.0,243.1L1766.5,243.1L1767.0,243.1L1767.5,243.1L1768.0,243.1L1768.5,243.1L1769.1,243.1L1769.6,243.1L1770.1,243.1L1770.6,243.1L1771.1,243.1L1771.6,243.1L1772.1,243.1L1772.7,243.1L1773.2,243.1L1773.7,243.1L1774.2,243.1L1774.7,243.1L1775.2,243.1L1775.7,243.1L1776.2,243.1L1776.8,243.1L1777.3,243.1L1777.8,243.1L1778.3,243.1L1778.8,243.1L1779.3,243.1L1779.8,243.1L1780.4,243.1L1780.9,243.1L1781.4,243.1L1781.9,243.1L1782.4,243.1L1782.9,243.1L1783.4,243.1L1784.0,243.1L1784.5,243.1L1785.0,243.1L1785.5,243.1L1786.0,243.1L1786.5,243.1L1787.0,243.1L1787.6,243.1L1788.1,243.1L1788.6,243.1L1789.1,243.1L1789.6,243.1L1790.1,243.1L1790.6,243.1L1791.2,243.1L1791.7,243.1L1792.2,243.1L1792.7,243.1L1793.2,243.1L1793.7,243.1L1794.2,243.1L1794.8,243.1L1795.3,243.1L1795.8,243.1L1796.3,243.1L1796.8,243.1L1797.3,243.1L1797.8,243.1L1798.4,243.1L1798.9,243.1L1799.4,243.1L1799.9,243.1L1800.4,243.1L1800.9,243.1L1801.4,243.1L1802.0,243.1L1802.5,243.1L1803.0,243.1L1803.5,243.1L1804.0,243.1L1804.5,243.1L1805.0,243.1L1805.6,243.1L1806.1,243.1L1806.6,243.1L1807.1,243.1L1807.6,243.1L1808.1,243.1L1808.6,243.1L1809.2,243.1L1809.7,243.1L1810.2,243.1L1810.7,243.1L1811.2,243.1L1811.7,243.1L1812.2,243.1L1812.8,243.1L1813.3,243.1L1813.8,243.1L1814.3,243.1L1814.8,243.1L1815.3,243.1L1815.8,243.1L1816.3,243.1" stroke="#ff0000" stroke-dasharray="13.18 13.18" stroke-dashoffset="0"/>
<path d="M1096.6,240.6L1097.1,240.6L1097.6,240.6L1098.1,240.6L1098.7,240.6L1099.2,240.6L1099.7,240.6L1100.2,240.6L1100.7,240.6L1101.2,240.6L1101.7,240.7L1102.3,240.7L1102.8,240.7L1103.3,240.7L1103.8,240.8L1104.3,240.8L1104.8,240.9L1105.3,240.9L1105.9,241.0L1106.4,241.0L1106.9,241.1L1107.4,241.1L1107.9,241.2L1108.4,241.3L1108.9,241.3L1109.5,241.4L1110.0,241.5L1110.5,241.6L1111.0,241.7L1111.5,241.8L1112.0,241.9L1112.5,242.0L1113.1,242.1L1113.6,242.2L1114.1,242.3L1114.6,242.4L1115.1,242.5L1115.6,242.6L1116.1,242.8L1116.7,242.9L1117.2,243.0L1117.7,243.1L1118.2,243.3L1118.7,243.4L1119.2,243.6L1119.7,243.7L1120.2,243.8L1120.8,244.0L1121.3,244.2L1121.8,244.3L1122.3,244.5L1122.8,244.6L1123.3,244.8L1123.8,244.9L1124.4,245.1L1124.9,245.3L1125.4,245.4L1125.9,245.6L1126.4,245.8L1126.9,246.0L1127.4,246.1L1128.0,246.3L1128.5,246.5L1129.0,246.7L1129.5,246.8L1130.0,247.0L1130.5,247.2L1131.0,247.3L1131.6,247.5L1132.1,247.7L1132.6,247.9L1133.1,248.0L1133.6,248.2L1134.1,248.4L1134.6,248.5L1135.2,248.7L1135.7,248.8L1136.2,249.0L1136.7,249.1L1137.2,249.3L1137.7,249.4L1138.2,249.6L1138.8,249.7L1139.3,249.9L1139.8,250.0L1140.3,250.1L1140.8,250.2L1141.3,250.3L1141.8,250.4L1142.4,250.5L1142.9,250.6L1143.4,250.7L1143.9,250.8L1144.4,250.9L1144.9,251.0L1145.4,251.0L1146.0,251.1L1146.5,251.1L1147.0,251.2L1147.5,251.2L1148.0,251.2L1148.5,251.2L1149.0,251.2L1149.6,251.2L1150.1,251.2L1150.6,251.2L1151.1,251.2L1151.6,251.1L1152.1,251.1L1152.6,251.0L1153.2,251.0L1153.7,250.9L1154.2,250.8L1154.7,250.7L1155.2,250.6L1155.7,250.4L1156.2,250.3L1156.8,250.2L1157.3,250.0L1157.8,249.8L1158.3,249.7L1158.8,249.5L1159.3,249.3L1159.8,249.1L1160.3,248.8L1160.9,248.6L1161.4,248.4L1161.9,248.1L1162.4,247.8L1162.9,247.6L1163.4,247.3L1163.9,247.0L1164.5,246.7L1165.0,246.3L1165.5,246.0L1166.0,245.7L1166.5,245.3L1167.0,245.0L1167.5,244.6L1168.1,244.2L1168.6,243.8L1169.1,243.4L1169.6,243.0L1170.1,242.6L1170.6,242.2L1171.1,241.8L1171.7,241.4L1172.2,240.9L1172.7,240.5L1173.2,240.0L1173.7,239.6L1174.2,239.1L1174.7,238.6L1175.3,238.1L1175.8,237.7L1176.3,237.2L1176.8,236.7L1177.3,236.2L1177.8,235.7L1178.3,235.3L1178.9,234.8L1179.4,234.3L1179.9,233.8L1180.4,233.3L1180.9,232.8L1181.4,232.3L1181.9,231.9L1182.5,231.4L1183.0,230.9L1183.5,230.4L1184.0,230.0L1184.5,229.5L1185.0,229.1L1185.5,228.6L1186.1,228.2L1186.6,227.8L1187.1,227.4L1187.6,227.0L1188.1,226.6L1188.6,226.2L1189.1,225.8L1189.7,225.4L1190.2,225.1L1190.7,224.8L1191.2,224.5L1191.7,224.2L1192.2,223.9L1192.7,223.6L1193.3,223.4L1193.8,223.1L1194.3,222.9L1194.8,222.7L1195.3,222.5L1195.8,222.4L1196.3,222.3L1196.9,222.1L1197.4,222.1L1197.9,222.0L1198.4,221.9L1198.9,221.9L1199.4,221.9L1199.9,222.0L1200.4,222.0L1201.0,222.1L1201.5,222.2L1202.0,222.3L1202.5,222.5L1203.0,222.7L1203.5,222.9L1204.0,223.1L1204.6,223.4L1205.1,223.7L1205.6,224.0L1206.1,224.4L1206.6,224.7L1207.1,225.1L1207.6,225.6L1208.2,226.0L1208.7,226.5L1209.2,227.0L1209.7,227.6L1210.2,228.2L1210.7,228.8L1211.2,229.4L1211.8,230.1L1212.3,230.7L1212.8,231.5L1213.3,232.2L1213.8,233.0L1214.3,233.7L1214.8,234.6L1215.4,235.4L1215.9,236.2L1216.4,237.1L1216.9,238.0L1217.4,239.0L1217.9,239.9L1218.4,240.9L1219.0,241.9L1219.5,242.9L1220.0,243.9L1220.5,244.9L1221.0,246.0L1221.5,247.1L1222.0,248.2L1222.6,249.3L1223.1,250.4L1223.6,251.5L1224.1,252.6L1224.6,253.8L1225.1,254.9L1225.6,256.0L1226.2,257.2L1226.7,258.4L1227.2,259.5L1227.7,260.7L1228.2,261.8L1228.7,263.0L1229.2,264.1L1229.8,265.3L1230.3,266.4L1230.8,267.6L1231.3,268.7L1231.8,269.8L1232.3,270.9L1232.8,272.0L1233.4,273.0L1233.9,274.1L1234.4,275.1L1234.9,276.1L1235.4,277.1L1235.9,278.1L1236.4,279.0L1237.0,279.9L1237.5,280.8L1238.0,281.6L1238.5,282.5L1239.0,283.3L1239.5,284.0L1240.0,284.7L1240.5,285.4L1241.1,286.0L1241.6,286.6L1242.1,287.2L1242.6,287.7L1243.1,288.2L1243.6,288.6L1244.1,289.0L1244.7,289.3L1245.2,289.6L1245.7,289.8L1246.2,290.0L1246.7,290.1L1247.2,290.2L1247.7,290.2L1248.3,290.2L1248.8,290.1L1249.3,289.9L1249.8,289.7L1250.3,289.4L1250.8,289.1L1251.3,288.7L1251.9,288.3L1252.4,287.8L1252.9,287.2L1253.4,286.6L1253.9,285.9L1254.4,285.2L1254.9,284.3L1255.5,283.5L1256.0,282.5L1256.5,281.5L1257.0,280.5L1257.5,279.4L1258.0,278.2L1258.5,277.0L1259.1,275.7L1259.6,274.4L1260.1,273.0L1260.6,271.5L1261.1,270.0L1261.6,268.4L1262.1,266.8L1262.7,265.1L1263.2,263.4L1263.7,261.6L1264.2,259.8L1264.7,258.0L1265.2,256.0L1265.7,254.1L1266.3,252.1L1266.8,250.1L1267.3,248.0L1267.8,245.9L1268.3,243.8L1268.8,241.6L1269.3,239.4L1269.9,237.2L1270.4,235.0L1270.9,232.7L1271.4,230.4L1271.9,228.1L1272.4,225.8L1272.9,223.5L1273.5,221.2L1274.0,218.8L1274.5,216.5L1275.0,214.1L1275.5,211.8L1276.0,209.5L1276.5,207.1L1277.1,204.8L1277.6,202.5L1278.1,200.3L1278.6,198.0L1279.1,195.8L1279.6,193.6L1280.1,191.4L1280.7,189.3L1281.2,187.2L1281.7,185.1L1282.2,183.1L1282.7,181.1L1283.2,179.2L1283.7,177.3L1284.2,175.5L1284.8,173.7L1285.3,172.0L1285.8,170.3L1286.3,168.8L1286.8,167.3L1287.3,165.8L1287.8,164.5L1288.4,163.2L1288.9,162.0L1289.4,160.9L1289.9,159.8L1290.4,158.9L1290.9,158.0L1291.4,157.3L1292.0,156.6L1292.5,156.0L1293.0,155.5L1293.5,155.1L1294.0,154.9L1294.5,154.7L1295.0,154.6L1295.6,154.7L1296.1,154.8L1296.6,155.0L1297.1,155.4L1297.6,155.9L1298.1,156.4L1298.6,157.1L1299.2,157.9L1299.7,158.8L1300.2,159.9L1300.7,161.0L1301.2,162.3L1301.7,163.6L1302.2,165.1L1302.8,166.7L1303.3,168.4L1303.8,170.2L1304.3,172.1L1304.8,174.1L1305.3,176.3L1305.8,178.5L1306.4,180.8L1306.9,183.3L1307.4,185.8L1307.9,188.4L1308.4,191.2L1308.9,194.0L1309.4,196.9L1310.0,199.9L1310.5,203.0L1311.0,206.2L1311.5,209.4L1312.0,212.8L1312.5,216.2L1313.0,219.6L1313.6,223.2L1314.1,226.8L1314.6,230.4L1315.1,234.1L1315.6,237.9L1316.1,241.7L1316.6,245.6L1317.2,249.5L1317.7,253.4L1318.2,257.3L1318.7,261.3L1319.2,265.3L1319.7,269.3L1320.2,273.3L1320.8,277.4L1321.3,281.4L1321.8,285.4L1322.3,289.4L1322.8,293.4L1323.3,297.4L1323.8,301.3L1324.3,305.3L1324.9,309.1L1325.4,313.0L1325.9,316.8L1326.4,320.5L1326.9,324.2L1327.4,327.8L1327.9,331.4L1328.5,334.9L1329.0,338.3L1329.5,341.6L1330.0,344.8L1330.5,348.0L1331.0,351.0L1331.5,354.0L1332.1,356.8L1332.6,359.5L1333.1,362.1L1333.6,364.6L1334.1,367.0L1334.6,369.2L1335.1,371.3L1335.7,373.3L1336.2,375.1L1336.7,376.8L1337.2,378.3L1337.7,379.7L1338.2,380.9L1338.7,382.0L1339.3,382.9L1339.8,383.7L1340.3,384.2L1340.8,384.7L1341.3,384.9L1341.8,385.0L1342.3,384.9L1342.9,384.6L1343.4,384.2L1343.9,383.6L1344.4,382.8L1344.9,381.8L1345.4,380.7L1345.9,379.3L1346.5,377.8L1347.0,376.1L1347.5,374.3L1348.0,372.3L1348.5,370.1L1349.0,367.7L1349.5,365.1L1350.1,362.4L1350.6,359.5L1351.1,356.5L1351.6,353.2L1352.1,349.9L1352.6,346.3L1353.1,342.6L1353.7,338.8L1354.2,334.8L1354.7,330.7L1355.2,326.4L1355.7,322.0L1356.2,317.5L1356.7,312.8L1357.3,308.0L1357.8,303.1L1358.3,298.1L1358.8,293.0L1359.3,287.8L1359.8,282.5L1360.3,277.1L1360.9,271.6L1361.4,266.1L1361.9,260.5L1362.4,254.8L1362.9,249.1L1363.4,243.3L1363.9,237.5L1364.4,231.6L1365.0,225.7L1365.5,219.8L1366.0,213.9L1366.5,208.0L1367.0,202.1L1367.5,196.2L1368.0,190.3L1368.6,184.4L1369.1,178.6L1369.6,172.8L1370.1,167.0L1370.6,161.3L1371.1,155.7L1371.6,150.2L1372.2,144.7L1372.7,139.3L1373.2,134.0L1373.7,128.8L1374.2,123.7L1374.7,118.7L1375.2,113.8L1375.8,109.1L1376.3,104.5L1376.8,100.1L1377.3,95.8L1377.8,91.6L1378.3,87.6L1378.8,83.8L1379.4,80.2L1379.9,76.7L1380.4,73.4L1380.9,70.3L1381.4,67.4L1381.9,64.7L1382.4,62.2L1383.0,59.9L1383.5,57.8L1384.0,56.0L1384.5,54.3L1385.0,52.9L1385.5,51.7L1386.0,50.7L1386.6,50.0L1387.1,49.5L1387.6,49.2L1388.1,49.2L1388.6,49.4L1389.1,49.9L1389.6,50.6L1390.2,51.5L1390.7,52.7L1391.2,54.1L1391.7,55.7L1392.2,57.6L1392.7,59.7L1393.2,62.1L1393.8,64.7L1394.3,67.5L1394.8,70.6L1395.3,73.9L1395.8,77.4L1396.3,81.1L1396.8,85.0L1397.4,89.2L1397.9,93.6L1398.4,98.1L1398.9,102.9L1399.4,107.9L1399.9,113.0L1400.4,118.4L1401.0,123.9L1401.5,129.5L1402.0,135.4L1402.5,141.4L1403.0,147.5L1403.5,153.8L1404.0,160.3L1404.6,166.8L1405.1,173.5L1405.6,180.3L1406.1,187.2L1406.6,194.2L1407.1,201.3L1407.6,208.4L1408.1,215.6L1408.7,222.9L1409.2,230.3L1409.7,237.6L1410.2,245.1L1410.7,252.5L1411.2,259.9L1411.7,267.4L1412.3,274.9L1412.8,282.3L1413.3,289.7L1413.8,297.1L1414.3,304.4L1414.8,311.7L1415.3,319.0L1415.9,326.1L1416.4,333.2L1416.9,340.2L1417.4,347.1L1417.9,353.9L1418.4,360.5L1418.9,367.1L1419.5,373.5L1420.0,379.7L1420.5,385.9L1421.0,391.8L1421.5,397.6L1422.0,403.2L1422.5,408.6L1423.1,413.9L1423.6,418.9L1424.1,423.8L1424.6,428.4L1425.1,432.8L1425.6,437.0L1426.1,441.0L1426.7,444.7L1427.2,448.2L1427.7,451.4L1428.2,454.4L1428.7,457.2L1429.2,459.6L1429.7,461.9L1430.3,463.8L1430.8,465.5L1431.3,466.9L1431.8,468.0L1432.3,468.9L1432.8,469.5L1433.3,469.8L1433.9,469.8L1434.4,469.6L1434.9,469.1L1435.4,468.3L1435.9,467.2L1436.4,465.8L1436.9,464.2L1437.5,462.3L1438.0,460.1L1438.5,457.6L1439.0,454.9L1439.5,451.9L1440.0,448.6L1440.5,445.1L1441.1,441.4L1441.6,437.3L1442.1,433.1L1442.6,428.6L1443.1,423.9L1443.6,418.9L1444.1,413.7L1444.7,408.3L1445.2,402.7L1445.7,396.9L1446.2,390.9L1446.7,384.7L1447.2,378.4L1447.7,371.8L1448.2,365.1L1448.8,358.3L1449.3,351.3L1449.8,344.1L1450.3,336.9L1450.8,329.5L1451.3,322.0L1451.8,314.4L1452.4,306.7L1452.9,298.9L1453.4,291.1L1453.9,283.2L1454.4,275.3L1454.9,267.3L1455.4,259.2L1456.0,251.2L1456.5,243.2L1457.0,235.1L1457.5,227.1L1458.0,219.0L1458.5,211.0L1459.0,203.1L1459.6,195.2L1460.1,187.4L1460.6,179.6L1461.1,171.9L1461.6,164.3L1462.1,156.8L1462.6,149.4L1463.2,142.2L1463.7,135.0L1464.2,128.0L1464.7,121.2L1465.2,114.5L1465.7,107.9L1466.2,101.6L1466.8,95.4L1467.3,89.4L1467.8,83.6L1468.3,78.0L1468.8,72.6L1469.3,67.4L1469.8,62.4L1470.4,57.7L1470.9,53.2L1471.4,49.0L1471.9,44.9L1472.4,41.2L1472.9,37.7L1473.4,34.4L1474.0,31.4L1474.5,28.7L1475.0,26.2L1475.5,24.0L1476.0,22.1L1476.5,20.5L1477.0,19.1L1477.6,18.0L1478.1,17.2L1478.6,16.7L1479.1,16.5L1479.6,16.5L1480.1,16.8L1480.6,17.4L1481.2,18.3L1481.7,19.4L1482.2,20.8L1482.7,22.5L1483.2,24.4L1483.7,26.7L1484.2,29.1L1484.8,31.9L1485.3,34.9L1485.8,38.1L1486.3,41.6L1486.8,45.3L1487.3,49.3L1487.8,53.5L1488.3,57.9L1488.9,62.5L1489.4,67.4L1489.9,72.4L1490.4,77.7L1490.9,83.1L1491.4,88.7L1491.9,94.5L1492.5,100.4L1493.0,106.6L1493.5,112.8L1494.0,119.2L1494.5,125.8L1495.0,132.4L1495.5,139.2L1496.1,146.1L1496.6,153.1L1497.1,160.2L1497.6,167.3L1498.1,174.6L1498.6,181.9L1499.1,189.2L1499.7,196.6L1500.2,204.0L1500.7,211.4L1501.2,218.9L1501.7,226.4L1502.2,233.8L1502.7,241.2L1503.3,248.7L1503.8,256.0L1504.3,263.4L1504.8,270.7L1505.3,277.9L1505.8,285.0L1506.3,292.1L1506.9,299.1L1507.4,306.0L1507.9,312.8L1508.4,319.5L1508.9,326.0L1509.4,332.5L1509.9,338.8L1510.5,344.9L1511.0,350.9L1511.5,356.8L1512.0,362.4L1512.5,367.9L1513.0,373.3L1513.5,378.4L1514.1,383.4L1514.6,388.2L1515.1,392.7L1515.6,397.1L1516.1,401.3L1516.6,405.2L1517.1,408.9L1517.7,412.4L1518.2,415.7L1518.7,418.8L1519.2,421.6L1519.7,424.2L1520.2,426.6L1520.7,428.7L1521.3,430.6L1521.8,432.2L1522.3,433.6L1522.8,434.8L1523.3,435.7L1523.8,436.4L1524.3,436.9L1524.9,437.1L1525.4,437.1L1525.9,436.8L1526.4,436.3L1526.9,435.6L1527.4,434.6L1527.9,433.4L1528.4,432.0L1529.0,430.3L1529.5,428.5L1530.0,426.4L1530.5,424.1L1531.0,421.6L1531.5,418.9L1532.0,416.0L1532.6,412.9L1533.1,409.6L1533.6,406.1L1534.1,402.5L1534.6,398.7L1535.1,394.7L1535.6,390.5L1536.2,386.2L1536.7,381.8L1537.2,377.2L1537.7,372.5L1538.2,367.6L1538.7,362.6L1539.2,357.5L1539.8,352.3L1540.3,347.0L1540.8,341.6L1541.3,336.1L1541.8,330.6L1542.3,325.0L1542.8,319.3L1543.4,313.5L1543.9,307.7L1544.4,301.9L1544.9,296.0L1545.4,290.1L1545.9,284.2L1546.4,278.3L1547.0,272.4L1547.5,266.5L1548.0,260.6L1548.5,254.7L1549.0,248.8L1549.5,243.0L1550.0,237.2L1550.6,231.5L1551.1,225.8L1551.6,220.2L1552.1,214.7L1552.6,209.2L1553.1,203.8L1553.6,198.5L1554.2,193.3L1554.7,188.2L1555.2,183.2L1555.7,178.3L1556.2,173.5L1556.7,168.8L1557.2,164.3L1557.8,159.9L1558.3,155.6L1558.8,151.5L1559.3,147.5L1559.8,143.7L1560.3,140.0L1560.8,136.4L1561.4,133.1L1561.9,129.8L1562.4,126.8L1562.9,123.9L1563.4,121.2L1563.9,118.6L1564.4,116.2L1565.0,114.0L1565.5,112.0L1566.0,110.2L1566.5,108.5L1567.0,107.0L1567.5,105.6L1568.0,104.5L1568.6,103.5L1569.1,102.7L1569.6,102.1L1570.1,101.7L1570.6,101.4L1571.1,101.3L1571.6,101.4L1572.1,101.6L1572.7,102.1L1573.2,102.6L1573.7,103.4L1574.2,104.3L1574.7,105.4L1575.2,106.6L1575.7,108.0L1576.3,109.5L1576.8,111.2L1577.3,113.0L1577.8,115.0L1578.3,117.1L1578.8,119.3L1579.3,121.7L1579.9,124.2L1580.4,126.8L1580.9,129.5L1581.4,132.3L1581.9,135.3L1582.4,138.3L1582.9,141.5L1583.5,144.7L1584.0,148.0L1584.5,151.4L1585.0,154.9L1585.5,158.5L1586.0,162.1L1586.5,165.8L1587.1,169.5L1587.6,173.3L1588.1,177.2L1588.6,181.0L1589.1,185.0L1589.6,188.9L1590.1,192.9L1590.7,196.9L1591.2,200.9L1591.7,204.9L1592.2,208.9L1592.7,213.0L1593.2,217.0L1593.7,221.0L1594.3,225.0L1594.8,229.0L1595.3,232.9L1595.8,236.8L1596.3,240.7L1596.8,244.6L1597.3,248.4L1597.9,252.2L1598.4,255.9L1598.9,259.5L1599.4,263.1L1599.9,266.7L1600.4,270.1L1600.9,273.5L1601.5,276.9L1602.0,280.1L1602.5,283.3L1603.0,286.4L1603.5,289.4L1604.0,292.3L1604.5,295.1L1605.1,297.9L1605.6,300.5L1606.1,303.0L1606.6,305.5L1607.1,307.8L1607.6,310.0L1608.1,312.2L1608.7,314.2L1609.2,316.1L1609.7,317.9L1610.2,319.6L1610.7,321.2L1611.2,322.7L1611.7,324.0L1612.2,325.3L1612.8,326.4L1613.3,327.5L1613.8,328.4L1614.3,329.2L1614.8,329.9L1615.3,330.4L1615.8,330.9L1616.4,331.3L1616.9,331.5L1617.4,331.6L1617.9,331.7L1618.4,331.6L1618.9,331.4L1619.4,331.2L1620.0,330.8L1620.5,330.3L1621.0,329.7L1621.5,329.0L1622.0,328.3L1622.5,327.4L1623.0,326.5L1623.6,325.4L1624.1,324.3L1624.6,323.1L1625.1,321.8L1625.6,320.5L1626.1,319.0L1626.6,317.5L1627.2,316.0L1627.7,314.3L1628.2,312.6L1628.7,310.8L1629.2,309.0L1629.7,307.1L1630.2,305.2L1630.8,303.2L1631.3,301.2L1631.8,299.1L1632.3,297.0L1632.8,294.9L1633.3,292.7L1633.8,290.5L1634.4,288.3L1634.9,286.0L1635.4,283.8L1635.9,281.5L1636.4,279.2L1636.9,276.8L1637.4,274.5L1638.0,272.2L1638.5,269.8L1639.0,267.5L1639.5,265.1L1640.0,262.8L1640.5,260.5L1641.0,258.2L1641.6,255.9L1642.1,253.6L1642.6,251.3L1643.1,249.1L1643.6,246.9L1644.1,244.7L1644.6,242.5L1645.2,240.4L1645.7,238.3L1646.2,236.2L1646.7,234.2L1647.2,232.2L1647.7,230.3L1648.2,228.3L1648.8,226.5L1649.3,224.7L1649.8,222.9L1650.3,221.2L1650.8,219.5L1651.3,217.9L1651.8,216.3L1652.3,214.8L1652.9,213.3L1653.4,211.9L1653.9,210.6L1654.4,209.3L1654.9,208.1L1655.4,206.9L1655.9,205.8L1656.5,204.8L1657.0,203.8L1657.5,202.8L1658.0,202.0L1658.5,201.1L1659.0,200.4L1659.5,199.7L1660.1,199.1L1660.6,198.5L1661.1,198.0L1661.6,197.6L1662.1,197.2L1662.6,196.9L1663.1,196.6L1663.7,196.4L1664.2,196.2L1664.7,196.1L1665.2,196.1L1665.7,196.1L1666.2,196.2L1666.7,196.3L1667.3,196.5L1667.8,196.7L1668.3,197.0L1668.8,197.3L1669.3,197.7L1669.8,198.1L1670.3,198.6L1670.9,199.1L1671.4,199.7L1671.9,200.3L1672.4,200.9L1672.9,201.6L1673.4,202.3L1673.9,203.0L1674.5,203.8L1675.0,204.7L1675.5,205.5L1676.0,206.4L1676.5,207.3L1677.0,208.2L1677.5,209.2L1678.1,210.2L1678.6,211.2L1679.1,212.2L1679.6,213.3L1680.1,214.3L1680.6,215.4L1681.1,216.5L1681.7,217.6L1682.2,218.7L1682.7,219.9L1683.2,221.0L1683.7,222.2L1684.2,223.3L1684.7,224.5L1685.3,225.6L1685.8,226.8L1686.3,227.9L1686.8,229.1L1687.3,230.3L1687.8,231.4L1688.3,232.5L1688.9,233.7L1689.4,234.8L1689.9,235.9L1690.4,237.0L1690.9,238.1L1691.4,239.2L1691.9,240.3L1692.5,241.4L1693.0,242.4L1693.5,243.4L1694.0,244.4L1694.5,245.4L1695.0,246.4L1695.5,247.3L1696.0,248.3L1696.6,249.2L1697.1,250.1L1697.6,250.9L1698.1,251.7L1698.6,252.6L1699.1,253.3L1699.6,254.1L1700.2,254.8L1700.7,255.6L1701.2,256.2L1701.7,256.9L1702.2,257.5L1702.7,258.1L1703.2,258.7L1703.8,259.3L1704.3,259.8L1704.8,260.3L1705.3,260.7L1705.8,261.2L1706.3,261.6L1706.8,261.9L1707.4,262.3L1707.9,262.6L1708.4,262.9L1708.9,263.2L1709.4,263.4L1709.9,263.6L1710.4,263.8L1711.0,264.0L1711.5,264.1L1712.0,264.2L1712.5,264.3L1713.0,264.3L1713.5,264.4L1714.0,264.4L1714.6,264.4L1715.1,264.3L1715.6,264.2L1716.1,264.2L1716.6,264.0L1717.1,263.9L1717.6,263.8L1718.2,263.6L1718.7,263.4L1719.2,263.2L1719.7,262.9L1720.2,262.7L1720.7,262.4L1721.2,262.1L1721.8,261.8L1722.3,261.5L1722.8,261.2L1723.3,260.9L1723.8,260.5L1724.3,260.1L1724.8,259.7L1725.4,259.3L1725.9,258.9L1726.4,258.5L1726.9,258.1L1727.4,257.7L1727.9,257.2L1728.4,256.8L1729.0,256.3L1729.5,255.9L1730.0,255.4L1730.5,254.9L1731.0,254.4L1731.5,254.0L1732.0,253.5L1732.6,253.0L1733.1,252.5L1733.6,252.0L1734.1,251.5L1734.6,251.0L1735.1,250.6L1735.6,250.1L1736.1,249.6L1736.7,249.1L1737.2,248.6L1737.7,248.2L1738.2,247.7L1738.7,247.2L1739.2,246.7L1739.7,246.3L1740.3,245.8L1740.8,245.4L1741.3,244.9L1741.8,244.5L1742.3,244.1L1742.8,243.7L1743.3,243.3L1743.9,242.9L1744.4,242.5L1744.9,242.1L1745.4,241.7L1745.9,241.3L1746.4,241.0L1746.9,240.6L1747.5,240.3L1748.0,240.0L1748.5,239.6L1749.0,239.3L1749.5,239.0L1750.0,238.7L1750.5,238.5L1751.1,238.2L1751.6,237.9L1752.1,237.7L1752.6,237.5L1753.1,237.2L1753.6,237.0L1754.1,236.8L1754.7,236.6L1755.2,236.5L1755.7,236.3L1756.2,236.1L1756.7,236.0L1757.2,235.9L1757.7,235.7L1758.3,235.6L1758.8,235.5L1759.3,235.4L1759.8,235.3L1760.3,235.3L1760.8,235.2L1761.3,235.2L1761.9,235.1L1762.4,235.1L1762.9,235.1L1763.4,235.1L1763.9,235.1L1764.4,235.1L1764.9,235.1L1765.5,235.1L1766.0,235.1L1766.5,235.2L1767.0,235.2L1767.5,235.3L1768.0,235.3L1768.5,235.4L1769.1,235.5L1769.6,235.6L1770.1,235.7L1770.6,235.8L1771.1,235.9L1771.6,236.0L1772.1,236.1L1772.7,236.2L1773.2,236.3L1773.7,236.4L1774.2,236.6L1774.7,236.7L1775.2,236.9L1775.7,237.0L1776.2,237.2L1776.8,237.3L1777.3,237.5L1777.8,237.6L1778.3,237.8L1778.8,237.9L1779.3,238.1L1779.8,238.3L1780.4,238.4L1780.9,238.6L1781.4,238.8L1781.9,239.0L1782.4,239.1L1782.9,239.3L1783.4,239.5L1784.0,239.6L1784.5,239.8L1785.0,240.0L1785.5,240.2L1786.0,240.3L1786.5,240.5L1787.0,240.7L1787.6,240.9L1788.1,241.0L1788.6,241.2L1789.1,241.4L1789.6,241.5L1790.1,241.7L1790.6,241.8L1791.2,242.0L1791.7,242.1L1792.2,242.3L1792.7,242.5L1793.2,242.6L1793.7,242.7L1794.2,242.9L1794.8,243.0L1795.3,243.2L1795.8,243.3L1796.3,243.4L1796.8,243.5L1797.3,243.7L1797.8,243.8L1798.4,243.9L1798.9,244.0L1799.4,244.1L1799.9,244.2L1800.4,244.3L1800.9,244.4L1801.4,244.5L1802.0,244.6L1802.5,244.7L1803.0,244.8L1803.5,244.9L1804.0,245.0L1804.5,245.0L1805.0,245.1L1805.6,245.2L1806.1,245.2L1806.6,245.3L1807.1,245.3L1807.6,245.4L1808.1,245.4L1808.6,245.5L1809.2,245.5L1809.7,245.6L1810.2,245.6L1810.7,245.6L1811.2,245.6L1811.7,245.7L1812.2,245.7L1812.8,245.7L1813.3,245.7L1813.8,245.7L1814.3,245.7L1814.8,245.7L1815.3,245.7L1815.8,245.7L1816.3,245.7" stroke="#008000" stroke-dasharray="4.69 8.77 15.40 8.57" stroke-dashoffset="0"/>
</g>
<path d="M1096.60,481.2v-8.772M1096.60,5.1v8.772M1276.54,481.2v-8.772M1276.54,5.1v8.772M1456.47,481.2v-8.772M1456.47,5.1v8.772M1636.41,481.2v-8.772M1636.41,5.1v8.772M1816.35,481.2v-8.772M1816.35,5.1v8.772M1096.6,469.86h8.772M1816.35,469.86h-8.772M1096.6,356.51h8.772M1816.35,356.51h-8.772M1096.6,243.15h8.772M1816.35,243.15h-8.772M1096.6,129.79h8.772M1816.35,129.79h-8.772M1096.6,16.44h8.772M1816.35,16.44h-8.772" stroke="#000" stroke-width="1.12" fill="none"/>
<rect x="1096.6" y="5.05" width="719.75" height="476.15" fill="none" stroke="#000" stroke-width="2.35"/>
<text xml:space="preserve"><tspan x="1003.42" y="491.94" font-size="56.25" textLength="27.76" lengthAdjust="spacingAndGlyphs">−</tspan><tspan x="1030.48" y="485.56" font-size="45.72" letter-spacing="-1.087" stroke="#000" stroke-width="0.3" textLength="55.69" lengthAdjust="spacingAndGlyphs">1.0</tspan></text>
<text xml:space="preserve"><tspan x="1003.47" y="378.58" font-size="56.25" textLength="27.76" lengthAdjust="spacingAndGlyphs">−</tspan><tspan x="1030.53" y="372.21" font-size="45.72" letter-spacing="-1.087" stroke="#000" stroke-width="0.3" textLength="55.69" lengthAdjust="spacingAndGlyphs">0.5</tspan></text>
<text xml:space="preserve"><tspan x="1030.48" y="258.85" font-size="45.72" letter-spacing="-1.087" stroke="#000" stroke-width="0.3" textLength="55.69" lengthAdjust="spacingAndGlyphs">0.0</tspan></text>
<text xml:space="preserve"><tspan x="1030.53" y="145.49" font-size="45.72" letter-spacing="-1.087" stroke="#000" stroke-width="0.3" textLength="55.69" lengthAdjust="spacingAndGlyphs">0.5</tspan></text>
<text xml:space="preserve"><tspan x="1030.48" y="32.14" font-size="45.72" letter-spacing="-1.087" stroke="#000" stroke-width="0.3" textLength="55.69" lengthAdjust="spacingAndGlyphs">1.0</tspan></text>
<text xml:space="preserve"><tspan x="1059.69" y="527.08" font-size="56.25" textLength="27.76" lengthAdjust="spacingAndGlyphs">−</tspan><tspan x="1086.73" y="520.70" font-size="45.72" letter-spacing="-1.087" stroke="#000" stroke-width="0.3" textLength="45.00" lengthAdjust="spacingAndGlyphs">10</tspan></text>
<text xml:space="preserve"><tspan x="1250.90" y="527.08" font-size="56.25" textLength="27.76" lengthAdjust="spacingAndGlyphs">−</tspan><tspan x="1277.94" y="520.70" font-size="45.72" letter-spacing="-1.087" stroke="#000" stroke-width="0.3" textLength="22.50" lengthAdjust="spacingAndGlyphs">5</tspan></text>
<text xml:space="preserve"><tspan x="1444.66" y="520.70" font-size="45.72" letter-spacing="-1.087" stroke="#000" stroke-width="0.3" textLength="22.50" lengthAdjust="spacingAndGlyphs">0</tspan></text>
<text xml:space="preserve"><tspan x="1624.15" y="520.70" font-size="45.72" letter-spacing="-1.087" stroke="#000" stroke-width="0.3" textLength="22.50" lengthAdjust="spacingAndGlyphs">5</tspan></text>
<text xml:space="preserve"><tspan x="1792.11" y="520.70" font-size="45.72" letter-spacing="-1.087" stroke="#000" stroke-width="0.3" textLength="45.00" lengthAdjust="spacingAndGlyphs">10</tspan></text>
<text xml:space="preserve"><tspan x="1111.61" y="53.60" font-size="44.10" stroke="#000" stroke-width="0.5" textLength="15.83" lengthAdjust="spacingAndGlyphs">(</tspan><tspan x="1127.20" y="55.40" font-size="46.79" stroke="#000" stroke-width="0.5" textLength="24.01" lengthAdjust="spacingAndGlyphs">b</tspan><tspan x="1151.26" y="53.60" font-size="44.10" stroke="#000" stroke-width="0.5" textLength="15.83" lengthAdjust="spacingAndGlyphs">)</tspan></text>
<text xml:space="preserve"><tspan x="1338.20" y="561.80" font-size="44.77" stroke="#000" stroke-width="0.35" textLength="93.35" lengthAdjust="spacingAndGlyphs">Time</tspan>  <tspan x="1453.72" y="562.70" font-size="43.42" font-style="italic" stroke="#000" stroke-width="0.6" textLength="12.50" lengthAdjust="spacingAndGlyphs">t</tspan>  <tspan x="1489.82" y="561.80" font-size="43.20" stroke="#000" stroke-width="0.3" textLength="14.99" lengthAdjust="spacingAndGlyphs">(</tspan> <tspan x="1514.92" y="561.80" font-size="43.65" stroke="#000" stroke-width="0.35" textLength="32.50" lengthAdjust="spacingAndGlyphs">fs</tspan> <tspan x="1559.15" y="561.80" font-size="43.20" stroke="#000" stroke-width="0.3" textLength="14.99" lengthAdjust="spacingAndGlyphs">)</tspan></text>
<text xml:space="preserve" transform="rotate(-90)"><tspan x="-462.07" y="983.00" font-size="44.77" stroke="#000" stroke-width="0.35" textLength="229.64" lengthAdjust="spacingAndGlyphs">Electric field</tspan>  <tspan x="-208.05" y="983.00" font-size="45.90" font-style="italic" stroke="#000" stroke-width="0.6" textLength="28.86" lengthAdjust="spacingAndGlyphs">E</tspan><tspan x="-178.84" y="990.80" font-size="32.00" font-style="italic">z</tspan>  <tspan x="-144.88" y="983.00" font-size="43.20" stroke="#000" stroke-width="0.3" textLength="14.99" lengthAdjust="spacingAndGlyphs">(</tspan> <tspan x="-118.98" y="983.00" font-size="44.77" stroke="#000" stroke-width="0.35" textLength="64.97" lengthAdjust="spacingAndGlyphs">a.u.</tspan> <tspan x="-40.25" y="983.00" font-size="43.20" stroke="#000" stroke-width="0.3" textLength="14.99" lengthAdjust="spacingAndGlyphs">)</tspan></text>
<g fill="none" stroke-width="4.39">
<path d="M1600.0,36.95H1671.2" stroke="#0000ff" stroke-linecap="square"/>
<path d="M1600.0,80.5H1671.2" stroke="#ff0000" stroke-dasharray="13.18 13.18"/>
<path d="M1600.0,124.2H1671.2" stroke="#008000" stroke-dasharray="4.69 8.77 15.40 8.57"/>
</g>
<text xml:space="preserve"><tspan x="1701.33" y="49.85" font-size="36.08" font-style="italic" stroke="#000" stroke-width="0.35" textLength="15.10" lengthAdjust="spacingAndGlyphs">s</tspan> <tspan x="1726.11" y="52.35" font-size="36.47" stroke="#000" stroke-width="0.7" textLength="23.63" lengthAdjust="spacingAndGlyphs">=</tspan> <tspan x="1760.79" y="49.85" font-size="38.80" letter-spacing="-0.500" stroke="#000" stroke-width="0.3" textLength="19.47" lengthAdjust="spacingAndGlyphs">1</tspan></text>
<text xml:space="preserve"><tspan x="1701.33" y="93.80" font-size="36.08" font-style="italic" stroke="#000" stroke-width="0.35" textLength="15.10" lengthAdjust="spacingAndGlyphs">s</tspan> <tspan x="1726.11" y="96.30" font-size="36.47" stroke="#000" stroke-width="0.7" textLength="23.63" lengthAdjust="spacingAndGlyphs">=</tspan> <tspan x="1759.29" y="93.80" font-size="38.80" letter-spacing="-0.500" stroke="#000" stroke-width="0.3" textLength="38.93" lengthAdjust="spacingAndGlyphs">10</tspan></text>
<text xml:space="preserve"><tspan x="1701.33" y="137.90" font-size="36.08" font-style="italic" stroke="#000" stroke-width="0.35" textLength="15.10" lengthAdjust="spacingAndGlyphs">s</tspan> <tspan x="1726.11" y="140.40" font-size="36.47" stroke="#000" stroke-width="0.7" textLength="23.63" lengthAdjust="spacingAndGlyphs">=</tspan> <tspan x="1761.08" y="137.90" font-size="38.80" letter-spacing="-0.500" stroke="#000" stroke-width="0.3" textLength="38.93" lengthAdjust="spacingAndGlyphs">60</tspan></text>
</svg>
</body></html>
